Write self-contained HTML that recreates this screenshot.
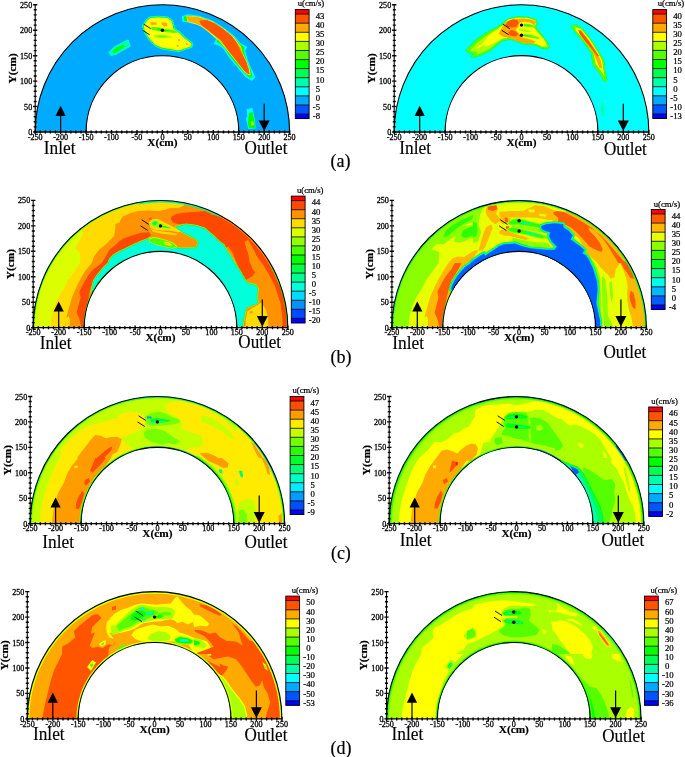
<!DOCTYPE html>
<html lang="en"><head><meta charset="utf-8"><title>Velocity contours</title>
<style>
html,body{margin:0;padding:0;background:#fff}
svg{display:block}
text{font-family:"Liberation Serif","DejaVu Serif",serif;fill:#000}
.t text{font-size:8.1px;stroke:#000;stroke-width:.28px}
.c text{font-size:8.7px;stroke:#000;stroke-width:.22px}
.b{font-size:11.3px;font-weight:bold;stroke:#000;stroke-width:.2px}
.io{font-size:18px;stroke:#000;stroke-width:.15px}
.cap{font-size:18px;stroke:#000;stroke-width:.2px}
</style></head><body>
<svg width="685" height="757" viewBox="0 0 685 757">
<rect width="685" height="757" fill="#fff"/>
<clipPath id="c1"><path d="M35.2 132A127.2 127.2 0 0 1 289.6 132L238.8 132A76.3 76.3 0 0 0 86.1 132Z"/></clipPath>
<g clip-path="url(#c1)">
<rect x="34.2" y="3.8" width="256.5" height="129.2" fill="#00aaff"/>
<path d="M146.7 21.1L150.4 18.1L158.4 17.4L167.2 18.1L171.5 21.1L172.7 25.4L173.4 29.1L178.8 32.7L184.7 38.6L191.7 43.7L190.8 46.6L186.1 48.1L178.8 50.5L170.1 49.1L161.3 47.6L155.5 44.7L150.4 39.6L146.7 34.2L144.5 29.8L143.8 25.4Z" fill="#00ffff" stroke="#00ffff" stroke-width="3.2" stroke-linejoin="round"/>
<path d="M146.7 21.1L150.4 18.1L158.4 17.4L167.2 18.1L171.5 21.1L172.7 25.4L173.4 29.1L178.8 32.7L184.7 38.6L191.7 43.7L190.8 46.6L186.1 48.1L178.8 50.5L170.1 49.1L161.3 47.6L155.5 44.7L150.4 39.6L146.7 34.2L144.5 29.8L143.8 25.4Z" fill="#00ff00" stroke="#00ff00" stroke-width="1.6" stroke-linejoin="round"/>
<path d="M146.7 21.1L150.4 18.1L158.4 17.4L167.2 18.1L171.5 21.1L172.7 25.4L173.4 29.1L178.8 32.7L184.7 38.6L191.7 43.7L190.8 46.6L186.1 48.1L178.8 50.5L170.1 49.1L161.3 47.6L155.5 44.7L150.4 39.6L146.7 34.2L144.5 29.8L143.8 25.4Z" fill="#ffff00"/>
<path d="M150.4 22.2L156.2 22.2L156.9 24.7L151.1 25Z" fill="#ffaa00"/>
<path d="M161.3 22.2L167.2 22.8L167.4 26.2L164.2 26.6L162 24.7Z" fill="#ffaa00"/>
<path d="M178.1 38.9L180 39.2L180 40.9L178.2 40.9Z" fill="#ffaa00"/>
<path d="M176.6 44.7L178.5 44.7L178.5 46.8L176.8 46.8Z" fill="#ffaa00"/>
<path d="M186.1 43.2L187.9 43.2L187.9 45L186.1 45Z" fill="#ffaa00"/>
<path d="M151.1 26.9L158.4 27.2L164.2 29.1L173 29.8L178.1 32.4L173 33L165.7 32L158.4 31.3L151.8 29.8Z" fill="#55ff00"/>
<path d="M156.9 28.1L164.2 29.5L170.1 30.5L164.2 31.3L157.7 30.1Z" fill="#00ff00"/>
<path d="M153.3 35.2L161.3 34.6L170.1 35.7L173 37.4L164.2 38.3L155.5 37.8Z" fill="#aaff00"/>
<path d="M155.5 35.9L164.2 35.7L168.6 36.7L161.3 37.4Z" fill="#55ff00"/>
<path d="M109.1 52.4L113.9 47.3L120.4 43.7L128 40L129.2 43.2L130.4 46.2L126.7 48.2L121.9 50.8L116.1 54.3L110.9 55.4Z" fill="#00ffff" stroke="#00ffff" stroke-width="1" stroke-linejoin="round"/>
<path d="M109.1 52.4L113.9 47.3L120.4 43.7L128 40L129.2 43.2L130.4 46.2L126.7 48.2L121.9 50.8L116.1 54.3L110.9 55.4Z" fill="#00ffaa"/>
<path d="M112.4 51.4L117.5 47.3L123.4 44.7L124.8 46.6L119 50.3L114.6 53.2Z" fill="#00ff00"/>
<path d="M182.4 16.7L187.5 14.9L199.2 16.4L212.3 21.1L224 28.4L234.2 36.4L240.1 43.7L246.6 47.3L244.5 51L247.4 60.5L251 69.2L254.7 77.3L251.8 80.2L245.9 76.5L238.6 67.8L229.9 57.6L224 48.8L219.6 45.1L214.5 43.7L216.7 39.3L210.9 33.5L203.6 26.9L196.3 24L187.5 21.8L183.1 21.1Z" fill="#00ffff" stroke="#00ffff" stroke-width="1.2" stroke-linejoin="round"/>
<path d="M184.6 17L188.2 16.1L199.2 17.4L212.3 22.1L223.3 29.1L233.5 37.1L238.6 43.7L243.7 47.6L243 51L245.9 60.5L249.6 69.2L251.8 76.5L250 77.3L245.9 73.6L238.6 65.6L230.6 56.1L225.2 48.1L220.4 43.2L217.4 41.5L218.2 39.3L211.6 32.7L204.3 26.2L196.3 23L188.2 20.8L184.6 20.3Z" fill="#00ff00" stroke="#00ff00" stroke-width="1.2" stroke-linejoin="round"/>
<path d="M187.5 16.7L199.2 17.8L212.3 22.5L223.3 29.5L232.8 37.4L237.4 43.7L240.1 47.3L241.5 53.2L245.9 61.9L248.5 69.2L249.6 74.3L245.9 72.2L240.1 64.9L234.2 57.6L228.4 50.3L224.7 45.9L220.4 40.8L213.8 34.9L206.5 29.1L201.4 25.4L196.3 23.2L188.2 20.8Z" fill="#ffff00" stroke="#ffff00" stroke-width="2" stroke-linejoin="round"/>
<path d="M187.5 16.7L199.2 17.8L212.3 22.5L223.3 29.5L232.8 37.4L237.4 43.7L240.1 47.3L241.5 53.2L245.9 61.9L248.5 69.2L249.6 74.3L245.9 72.2L240.1 64.9L234.2 57.6L228.4 50.3L224.7 45.9L220.4 40.8L213.8 34.9L206.5 29.1L201.4 25.4L196.3 23.2L188.2 20.8Z" fill="#ffaa00" stroke="#ffaa00" stroke-width="1" stroke-linejoin="round"/>
<path d="M199.9 21.1L206.5 20.3L215.3 24L224 30.1L231.3 36.1L236.4 43L238.6 47.3L241.5 53.2L245.9 61.9L248.1 69.2L248.8 73.6L245.9 72.2L240.1 64.9L234.2 57.6L228.4 50.3L225.5 45.9L221.1 40L213.8 34.2L206.5 28.4L201.4 24.7Z" fill="#ff5500" stroke="#ff5500" stroke-width="0.8" stroke-linejoin="round"/>
<path d="M246.6 109.3L252.4 108.1L253.6 113.4L255.1 120.4L255.6 128.5L248.4 129.1L247.2 123.9L245.8 118.6L247.4 116.3Z" fill="#00ffff"/>
<path d="M248.9 113.4L252.4 111.6L254.2 119.2L255.1 128L248.9 128.3L247.8 122.7L248.4 118Z" fill="#00ff00"/>
<path d="M250.9 121.5L253 120.9L254 125L251.3 125.6Z" fill="#aaff00"/>
</g>
<path d="M35.2 132A127.2 127.2 0 0 1 289.6 132" fill="none" stroke="#000" stroke-width="1.1"/>
<path d="M86.1 132A76.3 76.3 0 0 1 238.8 132" fill="none" stroke="#000" stroke-width="1.1"/>
<path d="M34.7 132H290.1" stroke="#000" stroke-width="1.3" fill="none"/>
<path d="M35.2 132.5V4.2" stroke="#000" stroke-width="1.1" fill="none"/>
<path d="M35.2 129.9V134.1M40.2 130.5V133.5M45.3 130.5V133.5M50.4 130.5V133.5M55.5 130.5V133.5M60.6 129.9V134.1M65.7 130.5V133.5M70.8 130.5V133.5M75.9 130.5V133.5M81 130.5V133.5M86.1 129.9V134.1M91.1 130.5V133.5M96.2 130.5V133.5M101.3 130.5V133.5M106.4 130.5V133.5M111.5 129.9V134.1M116.6 130.5V133.5M121.7 130.5V133.5M126.8 130.5V133.5M131.9 130.5V133.5M137 129.9V134.1M142 130.5V133.5M147.1 130.5V133.5M152.2 130.5V133.5M157.3 130.5V133.5M162.4 129.9V134.1M167.5 130.5V133.5M172.6 130.5V133.5M177.7 130.5V133.5M182.8 130.5V133.5M187.8 129.9V134.1M192.9 130.5V133.5M198 130.5V133.5M203.1 130.5V133.5M208.2 130.5V133.5M213.3 129.9V134.1M218.4 130.5V133.5M223.5 130.5V133.5M228.6 130.5V133.5M233.7 130.5V133.5M238.8 129.9V134.1M243.8 130.5V133.5M248.9 130.5V133.5M254 130.5V133.5M259.1 130.5V133.5M264.2 129.9V134.1M269.3 130.5V133.5M274.4 130.5V133.5M279.5 130.5V133.5M284.6 130.5V133.5M289.6 129.9V134.1M33.1 132H37.3M33.7 126.9H36.7M33.7 121.8H36.7M33.7 116.7H36.7M33.7 111.6H36.7M33.1 106.5H37.3M33.7 101.5H36.7M33.7 96.4H36.7M33.7 91.3H36.7M33.7 86.2H36.7M33.1 81.1H37.3M33.7 76H36.7M33.7 70.9H36.7M33.7 65.8H36.7M33.7 60.7H36.7M33.1 55.7H37.3M33.7 50.6H36.7M33.7 45.5H36.7M33.7 40.4H36.7M33.7 35.3H36.7M33.1 30.2H37.3M33.7 25.1H36.7M33.7 20H36.7M33.7 14.9H36.7M33.7 9.8H36.7M33.1 4.8H37.3" stroke="#000" stroke-width="1.4" fill="none"/>
<g class="t">
<text x="35.2" y="139.6" text-anchor="middle">-250</text>
<text x="60.6" y="139.6" text-anchor="middle">-200</text>
<text x="86.1" y="139.6" text-anchor="middle">-150</text>
<text x="111.5" y="139.6" text-anchor="middle">-100</text>
<text x="137" y="139.6" text-anchor="middle">-50</text>
<text x="162.4" y="139.6" text-anchor="middle">0</text>
<text x="187.8" y="139.6" text-anchor="middle">50</text>
<text x="213.3" y="139.6" text-anchor="middle">100</text>
<text x="238.8" y="139.6" text-anchor="middle">150</text>
<text x="264.2" y="139.6" text-anchor="middle">200</text>
<text x="289.6" y="139.6" text-anchor="middle">250</text>
<text x="32.2" y="135" text-anchor="end">0</text>
<text x="32.2" y="109.5" text-anchor="end">50</text>
<text x="32.2" y="84.1" text-anchor="end">100</text>
<text x="32.2" y="58.7" text-anchor="end">150</text>
<text x="32.2" y="33.2" text-anchor="end">200</text>
<text x="32.2" y="7.8" text-anchor="end">250</text>
</g>
<text class="b" x="162.4" y="145.6" text-anchor="middle">X(cm)</text>
<text class="b" transform="translate(15.8 68.4) rotate(-90)" text-anchor="middle">Y(cm)</text>
<path d="M60.6 132V115" stroke="#000" stroke-width="1.2"/>
<path d="M60.6 105.7L55.5 115.9L65.7 115.9Z" fill="#000"/>
<path d="M264.2 103.7V123" stroke="#000" stroke-width="1.2"/>
<path d="M264.2 131L258.7 120.4L269.7 120.4Z" fill="#000"/>
<circle cx="162.4" cy="30.2" r="1.7" fill="#000"/>
<path d="M143.6 24.1L150.7 28.7" stroke="#000" stroke-width="0.9"/>
<path d="M142.5 30.2L149.7 34.8" stroke="#000" stroke-width="0.9"/>
<text class="io" x="43.7" y="153.7" textLength="31.8" lengthAdjust="spacingAndGlyphs">Inlet</text>
<text class="io" x="244.6" y="153.6" textLength="42.8" lengthAdjust="spacingAndGlyphs">Outlet</text>
<rect x="295.3" y="9.6" width="13.8" height="4.8" fill="#ff0000"/>
<rect x="295.3" y="14.1" width="13.8" height="9.4" fill="#ff5500"/>
<rect x="295.3" y="23.2" width="13.8" height="9.4" fill="#ffaa00"/>
<rect x="295.3" y="32.3" width="13.8" height="9.4" fill="#ffff00"/>
<rect x="295.3" y="41.4" width="13.8" height="9.4" fill="#aaff00"/>
<rect x="295.3" y="50.5" width="13.8" height="9.4" fill="#55ff00"/>
<rect x="295.3" y="59.6" width="13.8" height="9.4" fill="#00ff00"/>
<rect x="295.3" y="68.6" width="13.8" height="9.4" fill="#00ff55"/>
<rect x="295.3" y="77.7" width="13.8" height="9.4" fill="#00ffaa"/>
<rect x="295.3" y="86.8" width="13.8" height="9.4" fill="#00ffff"/>
<rect x="295.3" y="95.9" width="13.8" height="9.4" fill="#00aaff"/>
<rect x="295.3" y="105" width="13.8" height="9.4" fill="#0055ff"/>
<rect x="295.3" y="114.1" width="13.8" height="4.8" fill="#0000ff"/>
<path d="M295.3 14.1H309.1M295.3 23.2H309.1M295.3 32.3H309.1M295.3 41.4H309.1M295.3 50.5H309.1M295.3 59.6H309.1M295.3 68.6H309.1M295.3 77.7H309.1M295.3 86.8H309.1M295.3 95.9H309.1M295.3 105H309.1M295.3 114.1H309.1" stroke="#000" stroke-width="0.8" fill="none"/>
<rect x="295.3" y="9.6" width="13.8" height="109" fill="none" stroke="#000" stroke-width="0.9"/>
<g class="c">
<text x="315.7" y="18.9">43</text>
<text x="315.7" y="28">40</text>
<text x="315.7" y="37.1">35</text>
<text x="315.7" y="46.2">30</text>
<text x="315.7" y="55.3">25</text>
<text x="315.7" y="64.4">20</text>
<text x="315.7" y="73.4">15</text>
<text x="315.7" y="82.5">10</text>
<text x="315.7" y="91.6">5</text>
<text x="315.7" y="100.7">0</text>
<text x="312.8" y="109.8">-5</text>
<text x="312.8" y="118.9">-8</text>
<text x="311" y="6.2" text-anchor="middle">u(cm/s)</text>
</g>
<clipPath id="c2"><path d="M394.2 132A127.2 127.2 0 0 1 648.8 132L597.9 132A76.3 76.3 0 0 0 445.1 132Z"/></clipPath>
<g clip-path="url(#c2)">
<rect x="393.2" y="3.8" width="256.5" height="129.2" fill="#00ffff"/>
<path d="M465.8 50.3L471.7 44.4L479 37.8L489.2 31.3L498 26.9L503.8 22.5L508.2 18.9L518.4 16.7L528.6 17.4L535.9 19.6L537.4 23.2L535.2 26.9L538.8 31.3L544.7 38.6L549.1 45.9L547.6 48.8L541.8 48.1L535.9 45.1L530.1 44.4L522.8 43.7L516.9 41.5L509.6 39.3L502.3 40.8L496.5 45.1L490.7 50.3L483.4 53.9L476.1 56.8L470.9 56.8L473.9 53.2L468.8 52.4Z" fill="#00ff55" stroke="#00ff55" stroke-width="1.2" stroke-linejoin="round"/>
<path d="M465.8 50.3L471.7 44.4L479 37.8L489.2 31.3L498 26.9L503.8 22.5L508.2 18.9L518.4 16.7L528.6 17.4L535.9 19.6L537.4 23.2L535.2 26.9L538.8 31.3L544.7 38.6L549.1 45.9L547.6 48.8L541.8 48.1L535.9 45.1L530.1 44.4L522.8 43.7L516.9 41.5L509.6 39.3L502.3 40.8L496.5 45.1L490.7 50.3L483.4 53.9L476.1 56.8L470.9 56.8L473.9 53.2L468.8 52.4Z" fill="#55ff00"/>
<path d="M470.2 50.3L476.1 43.7L483.4 37.8L492.1 32L499.4 28.4L503.8 34.2L502.3 39.3L496.5 43.2L489.9 48.5L483.4 52L476.8 54.6L477.5 51.7L472.4 51.4Z" fill="#aaff00"/>
<path d="M481.9 44.4L487.7 36.4L496.5 29.8L503.8 24.7L508.2 19.6L518.4 17.8L528.6 18.1L535.2 20.8L535.9 24L533.7 26.9L537.4 32L543.9 39.3L547.6 46.6L541.8 46.6L535.9 43.7L530.1 43L522.8 42.2L516.9 40L509.6 37.8L502.3 38.6L496.5 41.5L491.4 44.4L486.3 46.6Z" fill="#ffff00"/>
<path d="M474.6 48.8L481.9 43.7L487.7 40.8L484.8 44.4L479 48.1Z" fill="#ffff00"/>
<path d="M498.7 33.5L502.3 26.9L506.7 21.8L512.6 18.9L522.8 18.4L531.5 19.6L535.9 21.8L534.5 25.4L530.1 22.5L524.2 21.8L519.9 22.5L518.4 26.9L515.5 29.8L518.4 32.7L522.8 37.8L530.1 39.3L535.9 41.5L533 43.7L525.7 43L518.4 41.5L514 39.3L508.2 37.8L502.3 36.4Z" fill="#ffaa00"/>
<path d="M505.3 24.7L508.2 21.1L513.3 19.6L517.7 20.3L518.4 23.2L516.2 26.9L511.1 27.6L506.7 26.9Z" fill="#ff5500"/>
<path d="M508.2 32.7L511.1 29.8L515.5 31.3L518.4 34.2L515.5 36.4L510.4 35.7Z" fill="#ff5500"/>
<path d="M523.5 23.7L530.1 24.3L535.9 26.2L535.2 27.6L528.6 26.9L523.5 26.2Z" fill="#55ff00"/>
<path d="M524.2 24.6L531.5 25.4L528.6 26.3L524.2 25.7Z" fill="#00ff55"/>
<path d="M523.5 33.9L531.5 34.9L539.6 37.4L538.8 38.9L530.1 37.4L523.5 36.4Z" fill="#55ff00"/>
<path d="M524.2 34.6L533 35.9L530.1 36.8L524.2 35.8Z" fill="#00ff55"/>
<path d="M519.1 28.4L524.2 29.1L533 32L525.7 32L519.1 30.5Z" fill="#aaff00"/>
<path d="M571.5 25.6L576 24.8L582.3 28.8L590.2 38.3L598.2 51L603.7 59.7L604.5 68.4L606.9 80.3L604.5 81.9L599.7 73.2L593.4 65.2L591 52.6L585.5 44.6L579.1 36.7L573.6 30.4Z" fill="#00ff55" stroke="#00ff55" stroke-width="1" stroke-linejoin="round"/>
<path d="M571.5 25.6L576 24.8L582.3 28.8L590.2 38.3L598.2 51L603.7 59.7L604.5 68.4L606.9 80.3L604.5 81.9L599.7 73.2L593.4 65.2L591 52.6L585.5 44.6L579.1 36.7L573.6 30.4Z" fill="#55ff00"/>
<path d="M575.2 27.2L580.7 28.8L589.4 39.1L597.4 51.8L602.1 60.5L603.2 68.4L604.5 76.3L601.3 71.6L595.8 63.7L593.4 52.6L587.1 43.8L580.7 35.9L576 30.4Z" fill="#ffff00"/>
<path d="M577.6 29.6L580.7 30L588.7 39.9L596.6 51.8L600.5 59.7L602.1 67.6L599.7 68.4L596.6 60.5L592.6 51L586.3 43L579.9 35.1Z" fill="#ffaa00"/>
<path d="M578.8 30.4L581 30.7L588.7 40.7L595.8 51.8L599 55.7L597.4 56.5L592.6 50.2L585.5 41.5L579.5 33.5Z" fill="#ff5500"/>
<path d="M601.3 102.5L603.2 102.5L604.5 108L603.7 116L601.7 116L600.5 109.6Z" fill="#00ffaa"/>
</g>
<path d="M394.2 132A127.2 127.2 0 0 1 648.8 132" fill="none" stroke="#000" stroke-width="1.1"/>
<path d="M445.1 132A76.3 76.3 0 0 1 597.9 132" fill="none" stroke="#000" stroke-width="1.1"/>
<path d="M393.8 132H649.2" stroke="#000" stroke-width="1.3" fill="none"/>
<path d="M394.2 132.5V4.2" stroke="#000" stroke-width="1.1" fill="none"/>
<path d="M394.2 129.9V134.1M399.3 130.5V133.5M404.4 130.5V133.5M409.5 130.5V133.5M414.6 130.5V133.5M419.7 129.9V134.1M424.8 130.5V133.5M429.9 130.5V133.5M435 130.5V133.5M440.1 130.5V133.5M445.1 129.9V134.1M450.2 130.5V133.5M455.3 130.5V133.5M460.4 130.5V133.5M465.5 130.5V133.5M470.6 129.9V134.1M475.7 130.5V133.5M480.8 130.5V133.5M485.9 130.5V133.5M491 130.5V133.5M496.1 129.9V134.1M501.1 130.5V133.5M506.2 130.5V133.5M511.3 130.5V133.5M516.4 130.5V133.5M521.5 129.9V134.1M526.6 130.5V133.5M531.7 130.5V133.5M536.8 130.5V133.5M541.9 130.5V133.5M547 129.9V134.1M552 130.5V133.5M557.1 130.5V133.5M562.2 130.5V133.5M567.3 130.5V133.5M572.4 129.9V134.1M577.5 130.5V133.5M582.6 130.5V133.5M587.7 130.5V133.5M592.8 130.5V133.5M597.9 129.9V134.1M602.9 130.5V133.5M608 130.5V133.5M613.1 130.5V133.5M618.2 130.5V133.5M623.3 129.9V134.1M628.4 130.5V133.5M633.5 130.5V133.5M638.6 130.5V133.5M643.7 130.5V133.5M648.8 129.9V134.1M392.1 132H396.4M392.8 126.9H395.8M392.8 121.8H395.8M392.8 116.7H395.8M392.8 111.6H395.8M392.1 106.5H396.4M392.8 101.5H395.8M392.8 96.4H395.8M392.8 91.3H395.8M392.8 86.2H395.8M392.1 81.1H396.4M392.8 76H395.8M392.8 70.9H395.8M392.8 65.8H395.8M392.8 60.7H395.8M392.1 55.7H396.4M392.8 50.6H395.8M392.8 45.5H395.8M392.8 40.4H395.8M392.8 35.3H395.8M392.1 30.2H396.4M392.8 25.1H395.8M392.8 20H395.8M392.8 14.9H395.8M392.8 9.8H395.8M392.1 4.8H396.4" stroke="#000" stroke-width="1.4" fill="none"/>
<g class="t">
<text x="394.2" y="139.6" text-anchor="middle">-250</text>
<text x="419.7" y="139.6" text-anchor="middle">-200</text>
<text x="445.1" y="139.6" text-anchor="middle">-150</text>
<text x="470.6" y="139.6" text-anchor="middle">-100</text>
<text x="496.1" y="139.6" text-anchor="middle">-50</text>
<text x="521.5" y="139.6" text-anchor="middle">0</text>
<text x="547" y="139.6" text-anchor="middle">50</text>
<text x="572.4" y="139.6" text-anchor="middle">100</text>
<text x="597.9" y="139.6" text-anchor="middle">150</text>
<text x="623.3" y="139.6" text-anchor="middle">200</text>
<text x="648.8" y="139.6" text-anchor="middle">250</text>
<text x="391.2" y="135" text-anchor="end">0</text>
<text x="391.2" y="109.5" text-anchor="end">50</text>
<text x="391.2" y="84.1" text-anchor="end">100</text>
<text x="391.2" y="58.7" text-anchor="end">150</text>
<text x="391.2" y="33.2" text-anchor="end">200</text>
<text x="391.2" y="7.8" text-anchor="end">250</text>
</g>
<text class="b" x="521.5" y="145.6" text-anchor="middle">X(cm)</text>
<text class="b" transform="translate(374.9 68.4) rotate(-90)" text-anchor="middle">Y(cm)</text>
<path d="M419.7 132V115" stroke="#000" stroke-width="1.2"/>
<path d="M419.7 105.7L414.6 115.9L424.8 115.9Z" fill="#000"/>
<path d="M623.3 103.7V123" stroke="#000" stroke-width="1.2"/>
<path d="M623.3 131L617.8 120.4L628.8 120.4Z" fill="#000"/>
<circle cx="521.5" cy="25.1" r="1.7" fill="#000"/>
<circle cx="521.5" cy="35.3" r="1.7" fill="#000"/>
<path d="M502.7 24.1L509.8 28.7" stroke="#000" stroke-width="0.9"/>
<path d="M501.6 30.2L508.8 34.8" stroke="#000" stroke-width="0.9"/>
<text class="io" x="399.3" y="154.2" textLength="31.8" lengthAdjust="spacingAndGlyphs">Inlet</text>
<text class="io" x="604" y="154.8" textLength="42.8" lengthAdjust="spacingAndGlyphs">Outlet</text>
<rect x="652.8" y="9.6" width="13.8" height="4.8" fill="#ff0000"/>
<rect x="652.8" y="14.1" width="13.8" height="9.4" fill="#ff5500"/>
<rect x="652.8" y="23.2" width="13.8" height="9.4" fill="#ffaa00"/>
<rect x="652.8" y="32.3" width="13.8" height="9.4" fill="#ffff00"/>
<rect x="652.8" y="41.4" width="13.8" height="9.4" fill="#aaff00"/>
<rect x="652.8" y="50.4" width="13.8" height="9.4" fill="#55ff00"/>
<rect x="652.8" y="59.5" width="13.8" height="9.4" fill="#00ff00"/>
<rect x="652.8" y="68.6" width="13.8" height="9.4" fill="#00ff55"/>
<rect x="652.8" y="77.7" width="13.8" height="9.4" fill="#00ffaa"/>
<rect x="652.8" y="86.7" width="13.8" height="9.4" fill="#00ffff"/>
<rect x="652.8" y="95.8" width="13.8" height="9.4" fill="#00aaff"/>
<rect x="652.8" y="104.9" width="13.8" height="9.4" fill="#0055ff"/>
<rect x="652.8" y="114" width="13.8" height="4.8" fill="#0000ff"/>
<path d="M652.8 14.1H666.6M652.8 23.2H666.6M652.8 32.3H666.6M652.8 41.4H666.6M652.8 50.4H666.6M652.8 59.5H666.6M652.8 68.6H666.6M652.8 77.7H666.6M652.8 86.7H666.6M652.8 95.8H666.6M652.8 104.9H666.6M652.8 114H666.6" stroke="#000" stroke-width="0.8" fill="none"/>
<rect x="652.8" y="9.6" width="13.8" height="108.9" fill="none" stroke="#000" stroke-width="0.9"/>
<g class="c">
<text x="673.2" y="18.9">40</text>
<text x="673.2" y="28">35</text>
<text x="673.2" y="37.1">30</text>
<text x="673.2" y="46.2">25</text>
<text x="673.2" y="55.2">20</text>
<text x="673.2" y="64.3">15</text>
<text x="673.2" y="73.4">10</text>
<text x="673.2" y="82.5">5</text>
<text x="673.2" y="91.5">0</text>
<text x="670.3" y="100.6">-5</text>
<text x="670.3" y="109.7">-10</text>
<text x="670.3" y="118.8">-13</text>
<text x="671" y="6.2" text-anchor="middle">u(cm/s)</text>
</g>
<clipPath id="c3"><path d="M33.2 327.7A127.2 127.2 0 0 1 287.8 327.7L236.8 327.7A76.3 76.3 0 0 0 84.2 327.7Z"/></clipPath>
<g clip-path="url(#c3)">
<rect x="32.2" y="199.4" width="256.5" height="129.2" fill="#ff9200"/>
<path d="M23.4 331.3L64.8 331.3L64.8 327.2L66.8 315.6L69.4 306.4L72 297.2L76 288L80.6 278.8L85.2 270.9L91.8 263L94.4 255.8L99.6 249.2L106.2 244L114.1 236.1L115.4 228.2L115.4 224.3L120 222.3L120.3 220.3L122.9 216.4L130.8 213.1L138.6 211.1L147.8 210.5L158.4 211.1L164.9 209.8L170.2 207.9L178.1 207.9L183.3 205.9L185.9 203.3L185.9 192.7L23.4 192.7Z" fill="#ffdb00"/>
<path d="M65.7 318.2L68.8 316.2L70.1 320.8L69.4 327.2L65.5 327.2Z" fill="#ffdb00"/>
<path d="M23.4 331.3L50.4 331.3L50.4 327.2L51.7 315.6L54.3 306.4L58.2 297.2L63.5 289.3L68.1 280.1L74.7 270.9L80.6 263L79.9 253.2L75.3 247.9L81.2 237.4L83.2 233.5L81.9 230.8L79.9 228.2L23.4 228.2Z" fill="#dbff00"/>
<path d="M171.5 216.4L176.8 213.8L185.9 212.5L196.5 211.8L205 211.1L213.1 215.1L226.3 216.4L294.6 263L294.6 331.3L282.1 331.3L282.1 315.6L280.1 302.4L274.9 286.6L268.3 273.5L261.8 263L256.5 255.8L252.6 247.9L248 240L244.7 242L246 246.6L248.6 254.5L249.9 263L251.2 263L251.9 268.3L255.2 272.2L252.6 276.1L246 280.1L242 274.8L238.1 269.6L232.8 263L230.2 255.8L226.3 250.6L223.6 245.3L218.4 241.4L213.1 236.1L206.6 230.8L200 228L199.1 226.2L193.8 224.3L185.9 223.6L178.1 224.3L172.8 222.3L170.8 219Z" fill="#ff4900"/>
<path d="M244.7 242L248 240L252.6 247.9L256.5 255.8L259.1 263L261.8 263L268.3 273.5L274.9 286.6L280.1 302.4L282.1 315.6L282.8 331.3L268.3 331.3L268.3 318.2L265.7 309L261.8 302.4L261.1 297.2L261.8 289.3L260.4 282.7L256.5 273.5L252.6 266.9L249.9 263L248.6 254.5L246 246.6Z" fill="#ff9200"/>
<path d="M225.6 247.9L228.2 246.6L232.8 253.2L236.8 263L239.4 266.9L235.5 263L230.9 263L226.9 254.5Z" fill="#ff9200"/>
<path d="M81.2 331.3L81.2 327.2L79.3 318.2L76.6 312.9L78.6 305L80.6 297.2L79.3 291.9L82.6 285.3L87.8 276.1L93.1 269.6L101.6 263L106.2 255.8L108.8 250.6L114.1 246L120 240.7L122.9 238.7L132.1 235.4L141.3 232.8L149.2 232.2L151.1 235.4L146.5 238.7L140 240.7L132.1 244.6L124.2 248.6L117.6 251.9L115 253.2L114.1 254.5L110.1 258.4L108.8 263L107.5 263L102.3 268.3L97 274.8L93.1 280.1L91.8 285.3L89.8 290.6L87.8 302.4L85.8 315.6L85.2 331.3Z" fill="#ff4900"/>
<path d="M93.1 297.2L91.8 291.2L93.1 285.3L94.4 280.1L98.3 274.8L103.6 268.3L108.8 263L110.1 259.1L114.1 255.2L120 251.9L122.9 250.6L132.1 246L141.3 242L147.8 239.4L151.8 238.1L155.7 240L159.7 243.3L167.6 246.6L172.8 247.9L180.7 248.6L188.6 248.6L196.5 247.9L199.1 242.7L196.5 238.7L191.2 236.1L183.3 232.2L176.1 227.2L185.9 224.9L196.5 226.2L205 228.9L206.6 230.8L213.1 236.1L218.4 241.4L223.6 245.3L226.3 250.6L230.2 255.8L234.2 263L239.4 270.9L244.7 280.1L248.6 284L255.2 285.3L257.8 289.3L256.5 295.8L257.8 302.4L252.6 305L246 307.7L244.7 312.9L243.4 319.5L242 327.2L242 331.3L226.3 331.3L200 263L186.9 263L159.7 266.3L122 302.4Z" fill="#92ff00" stroke="#92ff00" stroke-width="2.4" stroke-linejoin="round"/>
<path d="M93.1 297.2L91.8 291.2L93.1 285.3L94.4 280.1L98.3 274.8L103.6 268.3L108.8 263L110.1 259.1L114.1 255.2L120 251.9L122.9 250.6L132.1 246L141.3 242L147.8 239.4L151.8 238.1L155.7 240L159.7 243.3L167.6 246.6L172.8 247.9L180.7 248.6L188.6 248.6L196.5 247.9L199.1 242.7L196.5 238.7L191.2 236.1L183.3 232.2L176.1 227.2L185.9 224.9L196.5 226.2L205 228.9L206.6 230.8L213.1 236.1L218.4 241.4L223.6 245.3L226.3 250.6L230.2 255.8L234.2 263L239.4 270.9L244.7 280.1L248.6 284L255.2 285.3L257.8 289.3L256.5 295.8L257.8 302.4L252.6 305L246 307.7L244.7 312.9L243.4 319.5L242 327.2L242 331.3L226.3 331.3L200 263L186.9 263L159.7 266.3L122 302.4Z" fill="#00ff49" stroke="#00ff49" stroke-width="1.2" stroke-linejoin="round"/>
<path d="M93.1 297.2L91.8 291.2L93.1 285.3L94.4 280.1L98.3 274.8L103.6 268.3L108.8 263L110.1 259.1L114.1 255.2L120 251.9L122.9 250.6L132.1 246L141.3 242L147.8 239.4L151.8 238.1L155.7 240L159.7 243.3L167.6 246.6L172.8 247.9L180.7 248.6L188.6 248.6L196.5 247.9L199.1 242.7L196.5 238.7L191.2 236.1L183.3 232.2L176.1 227.2L185.9 224.9L196.5 226.2L205 228.9L206.6 230.8L213.1 236.1L218.4 241.4L223.6 245.3L226.3 250.6L230.2 255.8L234.2 263L239.4 270.9L244.7 280.1L248.6 284L255.2 285.3L257.8 289.3L256.5 295.8L257.8 302.4L252.6 305L246 307.7L244.7 312.9L243.4 319.5L242 327.2L242 331.3L226.3 331.3L200 263L186.9 263L159.7 266.3L122 302.4Z" fill="#00ffdb"/>
<path d="M245.3 331.3L245.3 327.2L246 318.2L247.3 311.6L252.6 307.7L257.8 305L261.1 302.4L265.7 309L268.3 318.2L268.3 331.3Z" fill="#ffdb00"/>
<path d="M249.9 311.6L252.6 311L252.6 312.9L249.9 313.2Z" fill="#ff9200"/>
<path d="M148.9 222.4L152 219.3L157.6 218.8L163.7 221.9L170.9 225.4L177 229L181.1 231.6L178 232.6L172.9 231.1L166.8 230.5L160.7 230.5L155.5 230L150.4 228Z" fill="#ffdb00"/>
<path d="M150.4 222.9L153.5 220.3L157.6 220.3L159.6 222.9L163.7 224.9L168.8 227L172.9 229L168.8 229L163.7 228L158.6 228L153.5 227L150.9 225.4Z" fill="#92ff00"/>
<path d="M152 222.9L155 221.1L157.4 221.9L156.8 224.4L153.7 225.4Z" fill="#00ff49"/>
<path d="M160.7 225.4L164.7 225.9L170.9 228.3L165.8 227.7L161.2 226.7Z" fill="#00ff00"/>
<path d="M148.9 218.3L151.5 217.8L152 219.3L149.4 220.3Z" fill="#ff4900"/>
<path d="M150.4 229L156.6 230.5L163.7 231.8L170.9 232.6L178 234.1L175 235.1L168.8 234.6L160.7 233.6L153.5 232.1Z" fill="#ffdb00"/>
<path d="M149.4 239.2L154.5 237.7L160.7 239.2L166.8 240.8L172.9 243.3L176.5 246.4L172.9 247.9L166.8 246.9L160.7 245.4L154.5 243.8L149.9 241.8Z" fill="#dbff00" stroke="#dbff00" stroke-width="1.2" stroke-linejoin="round"/>
<path d="M149.4 239.2L154.5 237.7L160.7 239.2L166.8 240.8L172.9 243.3L176.5 246.4L172.9 247.9L166.8 246.9L160.7 245.4L154.5 243.8L149.9 241.8Z" fill="#49ff00"/>
<path d="M163.7 241.8L168.8 242.3L172.9 244.9L169.9 245.9L164.7 244.3Z" fill="#ffdb00"/>
<path d="M33.2 327.7L33.4 320.9L34 314.1L34.9 307.3L36.2 300.6L37.8 293.9L39.8 287.4L42.1 281L44.8 274.7L47.8 268.6L51.2 262.6L54.8 256.8L58.8 251.3L63 245.9L67.6 240.8L72.4 235.9L77.4 231.3L82.7 227L88.2 223L93.9 219.2L99.9 215.8L105.9 212.7L112.2 210L118.6 207.6L125.1 205.5L131.7 203.7L138.4 202.4" fill="none" stroke="#92ff00" stroke-width="3.2"/>
<path d="M33.2 327.7L33.4 320.9L34 314.1L34.9 307.3L36.2 300.6L37.8 293.9L39.8 287.4L42.1 281L44.8 274.7L47.8 268.6L51.2 262.6L54.8 256.8L58.8 251.3L63 245.9L67.6 240.8L72.4 235.9L77.4 231.3L82.7 227L88.2 223L93.9 219.2L99.9 215.8L105.9 212.7L112.2 210L118.6 207.6L125.1 205.5L131.7 203.7L138.4 202.4" fill="none" stroke="#00ff00" stroke-width="1.8"/>
<path d="M138.4 202.4L145.4 201.4L152.4 200.7L159.4 200.5L166.4 200.6L173.4 201.1L180.4 202L187.3 203.3L194.1 205L200.9 207L207.5 209.4L213.9 212.2L220.2 215.3" fill="none" stroke="#00ff49" stroke-width="4"/>
<path d="M138.4 202.4L145.4 201.4L152.4 200.7L159.4 200.5L166.4 200.6L173.4 201.1L180.4 202L187.3 203.3L194.1 205L200.9 207L207.5 209.4L213.9 212.2L220.2 215.3" fill="none" stroke="#00ffdb" stroke-width="2.8"/>
<path d="M220.2 215.3L226 218.6L231.7 222.2L237.1 226.1L242.3 230.2L247.3 234.6L252 239.3L256.5 244.2L260.8 249.4L264.7 254.7L268.4 260.3L271.8 266L274.9 271.9L277.6 278L280.1 284.2" fill="none" stroke="#ff9200" stroke-width="3.2"/>
<path d="M270.7 264.1L273.9 269.9L276.7 275.9L279.3 282.1L281.5 288.4L283.4 294.8L285 301.2L286.2 307.8L287.1 314.4L287.6 321L287.8 327.7" fill="none" stroke="#00ff00" stroke-width="2"/>
<path d="M84.2 327.7L84.3 323.7L84.6 319.7L85.1 315.8L85.8 311.8L86.8 307.9L87.9 304.1L89.2 300.3L90.8 296.6L92.5 293L94.4 289.5L96.5 286.1L98.7 282.8L101.2 279.7L103.8 276.6L106.5 273.7L109.4 271L112.5 268.4L115.6 265.9L118.9 263.7L122.3 261.6" fill="none" stroke="#00ff00" stroke-width="1.6"/>
</g>
<path d="M33.2 327.7A127.2 127.2 0 0 1 287.8 327.7" fill="none" stroke="#000" stroke-width="1.1"/>
<path d="M84.2 327.7A76.3 76.3 0 0 1 236.8 327.7" fill="none" stroke="#000" stroke-width="1.1"/>
<path d="M32.8 327.7H288.2" stroke="#000" stroke-width="1.3" fill="none"/>
<path d="M33.2 328.2V199.9" stroke="#000" stroke-width="1.1" fill="none"/>
<path d="M33.2 325.6V329.8M38.3 326.2V329.2M43.4 326.2V329.2M48.5 326.2V329.2M53.6 326.2V329.2M58.7 325.6V329.8M63.8 326.2V329.2M68.9 326.2V329.2M74 326.2V329.2M79.1 326.2V329.2M84.2 325.6V329.8M89.2 326.2V329.2M94.3 326.2V329.2M99.4 326.2V329.2M104.5 326.2V329.2M109.6 325.6V329.8M114.7 326.2V329.2M119.8 326.2V329.2M124.9 326.2V329.2M130 326.2V329.2M135.1 325.6V329.8M140.1 326.2V329.2M145.2 326.2V329.2M150.3 326.2V329.2M155.4 326.2V329.2M160.5 325.6V329.8M165.6 326.2V329.2M170.7 326.2V329.2M175.8 326.2V329.2M180.9 326.2V329.2M185.9 325.6V329.8M191 326.2V329.2M196.1 326.2V329.2M201.2 326.2V329.2M206.3 326.2V329.2M211.4 325.6V329.8M216.5 326.2V329.2M221.6 326.2V329.2M226.7 326.2V329.2M231.8 326.2V329.2M236.8 325.6V329.8M241.9 326.2V329.2M247 326.2V329.2M252.1 326.2V329.2M257.2 326.2V329.2M262.3 325.6V329.8M267.4 326.2V329.2M272.5 326.2V329.2M277.6 326.2V329.2M282.7 326.2V329.2M287.8 325.6V329.8M31.1 327.7H35.4M31.8 322.6H34.8M31.8 317.5H34.8M31.8 312.4H34.8M31.8 307.3H34.8M31.1 302.2H35.4M31.8 297.2H34.8M31.8 292.1H34.8M31.8 287H34.8M31.8 281.9H34.8M31.1 276.8H35.4M31.8 271.7H34.8M31.8 266.6H34.8M31.8 261.5H34.8M31.8 256.4H34.8M31.1 251.3H35.4M31.8 246.3H34.8M31.8 241.2H34.8M31.8 236.1H34.8M31.8 231H34.8M31.1 225.9H35.4M31.8 220.8H34.8M31.8 215.7H34.8M31.8 210.6H34.8M31.8 205.5H34.8M31.1 200.4H35.4" stroke="#000" stroke-width="1.4" fill="none"/>
<g class="t">
<text x="33.2" y="335.3" text-anchor="middle">-250</text>
<text x="58.7" y="335.3" text-anchor="middle">-200</text>
<text x="84.2" y="335.3" text-anchor="middle">-150</text>
<text x="109.6" y="335.3" text-anchor="middle">-100</text>
<text x="135.1" y="335.3" text-anchor="middle">-50</text>
<text x="160.5" y="335.3" text-anchor="middle">0</text>
<text x="185.9" y="335.3" text-anchor="middle">50</text>
<text x="211.4" y="335.3" text-anchor="middle">100</text>
<text x="236.8" y="335.3" text-anchor="middle">150</text>
<text x="262.3" y="335.3" text-anchor="middle">200</text>
<text x="287.8" y="335.3" text-anchor="middle">250</text>
<text x="30.2" y="330.7" text-anchor="end">0</text>
<text x="30.2" y="305.2" text-anchor="end">50</text>
<text x="30.2" y="279.8" text-anchor="end">100</text>
<text x="30.2" y="254.3" text-anchor="end">150</text>
<text x="30.2" y="228.9" text-anchor="end">200</text>
<text x="30.2" y="203.4" text-anchor="end">250</text>
</g>
<text class="b" x="160.5" y="341.3" text-anchor="middle">X(cm)</text>
<text class="b" transform="translate(13.9 264.1) rotate(-90)" text-anchor="middle">Y(cm)</text>
<path d="M58.7 327.7V310.7" stroke="#000" stroke-width="1.2"/>
<path d="M58.7 301.4L53.6 311.6L63.8 311.6Z" fill="#000"/>
<path d="M262.3 299.4V318.7" stroke="#000" stroke-width="1.2"/>
<path d="M262.3 326.7L256.8 316.1L267.8 316.1Z" fill="#000"/>
<circle cx="160.5" cy="225.9" r="1.7" fill="#000"/>
<path d="M141.7 219.8L148.8 224.4" stroke="#000" stroke-width="0.9"/>
<path d="M140.6 225.9L147.8 230.5" stroke="#000" stroke-width="0.9"/>
<text class="io" x="39.7" y="349.2" textLength="31.8" lengthAdjust="spacingAndGlyphs">Inlet</text>
<text class="io" x="238.3" y="348.1" textLength="42.8" lengthAdjust="spacingAndGlyphs">Outlet</text>
<rect x="291.3" y="196.1" width="13.8" height="4.8" fill="#ff0000"/>
<rect x="291.3" y="200.6" width="13.8" height="9.4" fill="#ff4900"/>
<rect x="291.3" y="209.7" width="13.8" height="9.4" fill="#ff9200"/>
<rect x="291.3" y="218.7" width="13.8" height="9.4" fill="#ffdb00"/>
<rect x="291.3" y="227.8" width="13.8" height="9.4" fill="#dbff00"/>
<rect x="291.3" y="236.9" width="13.8" height="9.4" fill="#92ff00"/>
<rect x="291.3" y="245.9" width="13.8" height="9.4" fill="#49ff00"/>
<rect x="291.3" y="255" width="13.8" height="9.4" fill="#00ff00"/>
<rect x="291.3" y="264" width="13.8" height="9.4" fill="#00ff49"/>
<rect x="291.3" y="273.1" width="13.8" height="9.4" fill="#00ff92"/>
<rect x="291.3" y="282.1" width="13.8" height="9.4" fill="#00ffdb"/>
<rect x="291.3" y="291.2" width="13.8" height="9.4" fill="#00dbff"/>
<rect x="291.3" y="300.3" width="13.8" height="9.4" fill="#0092ff"/>
<rect x="291.3" y="309.3" width="13.8" height="9.4" fill="#0049ff"/>
<rect x="291.3" y="318.4" width="13.8" height="4.8" fill="#0000ff"/>
<path d="M291.3 200.6H305.1M291.3 209.7H305.1M291.3 218.7H305.1M291.3 227.8H305.1M291.3 236.9H305.1M291.3 245.9H305.1M291.3 255H305.1M291.3 264H305.1M291.3 273.1H305.1M291.3 282.1H305.1M291.3 291.2H305.1M291.3 300.3H305.1M291.3 309.3H305.1M291.3 318.4H305.1" stroke="#000" stroke-width="0.8" fill="none"/>
<rect x="291.3" y="196.1" width="13.8" height="126.8" fill="none" stroke="#000" stroke-width="0.9"/>
<g class="c">
<text x="311.7" y="205.4">44</text>
<text x="311.7" y="214.5">40</text>
<text x="311.7" y="223.5">35</text>
<text x="311.7" y="232.6">30</text>
<text x="311.7" y="241.7">25</text>
<text x="311.7" y="250.7">20</text>
<text x="311.7" y="259.8">15</text>
<text x="311.7" y="268.8">10</text>
<text x="311.7" y="277.9">5</text>
<text x="311.7" y="286.9">0</text>
<text x="308.8" y="296">-5</text>
<text x="308.8" y="305.1">-10</text>
<text x="308.8" y="314.1">-15</text>
<text x="308.8" y="323.2">-20</text>
<text x="310.2" y="192.8" text-anchor="middle">u(cm/s)</text>
</g>
<clipPath id="c4"><path d="M391.9 327.7A127.2 127.2 0 0 1 646.4 327.7L595.5 327.7A76.3 76.3 0 0 0 442.8 327.7Z"/></clipPath>
<g clip-path="url(#c4)">
<rect x="390.9" y="199.4" width="256.5" height="129.2" fill="#8bff00"/>
<path d="M408.4 331.3L408.4 327.2L409.7 315.6L412.3 306.4L416.2 297.2L421.5 289.3L426.1 280.1L432.7 270.9L438.6 263L439.2 251.9L431.4 249.2L436.6 244L443.2 244.6L449.8 240L456.3 235.4L453.7 241.4L458.9 242.7L464.2 241.4L469.5 238.7L478 237.4L480.9 232.2L478.3 224.3L479.6 216.4L482.2 209.8L486.1 204.6L494 200.6L512.4 198L538.7 198L563 203.3L584.3 213.8L652.6 266.3L652.6 331.3L601.4 331.3L601.4 302.4L600 276.1L594.8 263L589.5 255.8L584.3 247.9L573.8 237.4L558 225.6L551.8 224.3L546.6 237.4L554.5 247.9L563 253.2L525.6 255.8L473 261.1L472.1 270.9L456.3 295.8L444.5 331.3Z" fill="#e8ff00"/>
<path d="M443.2 237.4L445.8 230.8L451.1 226.2L458.9 221.6L466.8 217.7L473.4 215.1L472.1 219L465.5 223L458.9 226.9L453.7 230.8L448.4 236.1Z" fill="#2eff00"/>
<path d="M460.9 236.1L462.9 230.8L469.5 226.9L474.7 226.2L475.4 232.2L472.1 236.1L465.5 238.1Z" fill="#2eff00"/>
<path d="M461.6 226.2L469.5 223.6L478 221L478 223L469.5 225.6Z" fill="#e8ff00"/>
<path d="M473 221.6L476.9 223L477.6 229.5L476.3 236.1L473 237.4Z" fill="#2eff00"/>
<path d="M473 211.1L478.9 209.8L479.6 216.4L478.3 224.3L480.9 232.2L478.3 241.4L473 242.7Z" fill="#8bff00"/>
<path d="M473 221.6L476.9 223L477.6 229.5L476.3 236.1L473 237.4Z" fill="#2eff00"/>
<path d="M422.8 331.3L422.8 327.2L424.8 315.6L427.4 306.4L430 297.2L434 288L438.6 278.8L443.2 270.9L448.4 263L448.4 263L452.4 258.4L457.6 256.5L464.2 257.1L469.5 253.2L474.7 250.6L478 249.9L482.2 250.6L484.8 247.9L487.5 241.4L490.1 234.8L492.7 228.2L491.4 224.3L486.1 226.9L483.5 233.5L480.9 241.4L478.9 249.2L475.6 254.5L473 259.8L466.8 263L456.3 282.7L444.5 331.3Z" fill="#ffb900"/>
<path d="M423.7 318.2L426.8 316.2L428.1 320.8L427.4 327.2L423.5 327.2Z" fill="#e8ff00"/>
<path d="M439.2 331.3L439.2 327.2L437.3 318.2L434.6 312.9L436.6 305L438.6 297.2L437.3 291.9L440.6 285.3L445.8 276.1L451.1 269.6L455 263L461.6 263L458.9 268.3L455 274.8L451.7 280.1L450.4 285.3L448.4 290.6L445.8 302.4L443.8 315.6L443.2 331.3Z" fill="#ff5d00"/>
<path d="M486.1 208.5L490.1 205.9L496.6 205.2L498 209.8L496 213.8L499.3 217.7L507.2 216.4L511.1 219L508.5 223L503.2 224.3L499.3 221.6L495.3 224.3L491.4 221.6L487.5 216.4L485.5 212.5Z" fill="#ffb900"/>
<path d="M487.5 206.5L496.6 205.2L497.3 209.2L492.7 211.1L488.1 209.8Z" fill="#ff5d00"/>
<path d="M499.3 211.8L512.4 211.1L522.9 211.1L528.2 208.5L534.8 205.2L543.9 205.9L551.8 209.2L558.4 212.5L563 215.1L563 223L557.1 221.6L551.8 220.3L546.6 219.7L541.3 218.4L536.1 217.7L529.5 217.4L522.9 217.4L516.4 217.4L509.8 217.7L503.2 217.7L499.3 216.4Z" fill="#ffb900"/>
<path d="M528.2 209.2L534.8 209.6L534.5 212.5L528.8 212.2Z" fill="#e8ff00"/>
<path d="M538.7 213.8L546.6 214.4L545.9 216.7L539.4 216.1Z" fill="#e8ff00"/>
<path d="M499.3 230.8L504.5 228.9L511.1 232.2L517.7 234.8L525.6 236.8L529.5 238.7L525.6 240L517.7 238.1L509.8 236.1L503.2 235.4L499.3 233.5Z" fill="#ffb900"/>
<path d="M504.5 217.7L507.4 217.7L508.2 222.3L505.2 222.3Z" fill="#ff5d00"/>
<path d="M505.8 226.2L509.1 226.2L509.5 228.9L506.1 228.9Z" fill="#ff5d00"/>
<path d="M553.1 211.1L563 212.5L571.1 209.8L590.8 217.7L652.6 266.3L652.6 331.3L632.9 331.3L632.9 327.2L631.6 318.2L628.9 310.3L627.6 302.4L627 294.5L627.6 286.6L626.3 278.8L623.7 270.9L619.8 263L615.8 269.6L614.5 277.5L610.6 278.8L607.9 274.8L604 270.9L600 266.9L597.4 263L589.5 255.8L584.3 250.6L581.6 244L579 238.7L573.8 234.8L569.8 229.5L564.6 226.2L558 224.3L554.5 223L551.8 217.7Z" fill="#ffb900"/>
<path d="M553.1 212.5L557.1 211.1L563 211.8L565.9 213.1L575.1 217.7L584.3 223L592.2 228.2L597.4 233.5L602.7 238.7L606.6 244L610.6 250.6L614.5 257.1L618.4 263L621.1 263L623.7 268.3L627.6 273.5L630.3 278.1L634.2 278.8L632.9 273.5L627.6 263L623.7 261.1L615.8 251.9L607.9 242.7L600 234.8L589.5 227.6L588.2 228.9L589.5 230.8L594.8 236.1L600 242.7L602.7 249.2L601.4 251.9L596.1 249.9L589.5 246.6L586.2 242.7L581.6 237.4L576.4 232.2L571.1 227.6L564.6 224.3L558 222.3L558.4 217.7L554.5 215.1Z" fill="#ff5d00"/>
<path d="M588.9 229.3L592.4 229.5L597.4 233.5L602.7 238.7L606.6 244L610.6 250.6L614.5 257.1L617.8 263L613.2 263L610.6 257.1L603.3 249.9L602.7 248.6L600 242.7L594.8 236.1Z" fill="#ffb900"/>
<path d="M630.9 290.6L633.5 293.2L635.5 301.1L635.5 309L632.9 307.7L630.3 301.1L629.6 295.8Z" fill="#ff5d00"/>
<path d="M602 276.1L605.3 278.8L607.3 295.8L607.9 315.6L613.2 327.2L604 327.2L602.7 309L602 291.9Z" fill="#8bff00"/>
<path d="M609.2 282.7L611.9 281.4L613.2 297.2L611.2 302.4L609.9 291.9Z" fill="#8bff00"/>
<path d="M507.8 223L512.4 220.3L518.3 219L525.6 221L533.4 223L541.3 224.9L540 227.6L532.1 226.2L524.2 224.9L517.7 224.3L511.1 224.3Z" fill="#8bff00" stroke="#8bff00" stroke-width="2" stroke-linejoin="round"/>
<path d="M507.8 223L512.4 220.3L518.3 219L525.6 221L533.4 223L541.3 224.9L540 227.6L532.1 226.2L524.2 224.9L517.7 224.3L511.1 224.3Z" fill="#2eff00"/>
<path d="M507.8 229.5L512.4 227.6L519 228.9L525.6 230.8L533.4 232.8L541.3 234.8L546.6 237.4L541.3 238.1L533.4 236.1L525.6 234.1L517.7 232.8L511.1 231.5Z" fill="#8bff00" stroke="#8bff00" stroke-width="2" stroke-linejoin="round"/>
<path d="M507.8 229.5L512.4 227.6L519 228.9L525.6 230.8L533.4 232.8L541.3 234.8L546.6 237.4L541.3 238.1L533.4 236.1L525.6 234.1L517.7 232.8L511.1 231.5Z" fill="#2eff00"/>
<path d="M519 221.4L525.6 222L532.1 223.6L530.8 224.7L524.2 223.9L519 223Z" fill="#00ff8b"/>
<path d="M525.6 231.5L533.4 233.5L541.3 235.8L538.7 236.8L532.1 235.2L525.6 233.2Z" fill="#00ff8b"/>
<path d="M512.4 224.9L525.6 226.2L541.3 229.5L546.6 232.2L541.3 232.4L525.6 229.5L512.4 227.2Z" fill="#8bff00"/>
<path d="M512.4 237.4L522.9 240L533.4 242L546.6 242.7L551.8 246.6L543.9 247.3L530.8 246L520.3 244L512.4 241.4Z" fill="#8bff00"/>
<path d="M451.1 289.3L452.4 285.3L455 280.1L457.6 276.1L461.6 270.9L465.5 266.9L469.5 264.3L472.5 261.2L478.6 256.9L483.9 253.8L485.2 255.9L490.1 252.5L497 248.1L498.8 246.4L504 244.6L515 243.7L522.9 246.6L530.8 248.6L538.7 249.2L546.6 249.9L554.5 249.9L557.1 246.6L551.8 241.4L549.2 236.1L550.5 232.2L545.3 230.8L542 228.9L541.3 226.2L546.6 224.3L554.5 223.6L563 224.3L563.3 227.6L568.5 230.8L572.5 235.4L570.5 239.4L575.1 242.7L580.3 246.6L584.3 249.9L582.3 253.2L586.2 255.8L588.9 259.8L590.2 263L592.8 268.3L594.8 274.8L596.8 281.4L597.4 289.3L596.8 297.2L596.1 302.4L597.4 309L598.7 315.6L600 320.8L600 331.3L584.3 331.3L558 263L544.9 263L517.7 266.3L480 302.4Z" fill="#2eff00" stroke="#2eff00" stroke-width="4.8" stroke-linejoin="round"/>
<path d="M451.1 289.3L452.4 285.3L455 280.1L457.6 276.1L461.6 270.9L465.5 266.9L469.5 264.3L472.5 261.2L478.6 256.9L483.9 253.8L485.2 255.9L490.1 252.5L497 248.1L498.8 246.4L504 244.6L515 243.7L522.9 246.6L530.8 248.6L538.7 249.2L546.6 249.9L554.5 249.9L557.1 246.6L551.8 241.4L549.2 236.1L550.5 232.2L545.3 230.8L542 228.9L541.3 226.2L546.6 224.3L554.5 223.6L563 224.3L563.3 227.6L568.5 230.8L572.5 235.4L570.5 239.4L575.1 242.7L580.3 246.6L584.3 249.9L582.3 253.2L586.2 255.8L588.9 259.8L590.2 263L592.8 268.3L594.8 274.8L596.8 281.4L597.4 289.3L596.8 297.2L596.1 302.4L597.4 309L598.7 315.6L600 320.8L600 331.3L584.3 331.3L558 263L544.9 263L517.7 266.3L480 302.4Z" fill="#00ff2e" stroke="#00ff2e" stroke-width="3.6" stroke-linejoin="round"/>
<path d="M451.1 289.3L452.4 285.3L455 280.1L457.6 276.1L461.6 270.9L465.5 266.9L469.5 264.3L472.5 261.2L478.6 256.9L483.9 253.8L485.2 255.9L490.1 252.5L497 248.1L498.8 246.4L504 244.6L515 243.7L522.9 246.6L530.8 248.6L538.7 249.2L546.6 249.9L554.5 249.9L557.1 246.6L551.8 241.4L549.2 236.1L550.5 232.2L545.3 230.8L542 228.9L541.3 226.2L546.6 224.3L554.5 223.6L563 224.3L563.3 227.6L568.5 230.8L572.5 235.4L570.5 239.4L575.1 242.7L580.3 246.6L584.3 249.9L582.3 253.2L586.2 255.8L588.9 259.8L590.2 263L592.8 268.3L594.8 274.8L596.8 281.4L597.4 289.3L596.8 297.2L596.1 302.4L597.4 309L598.7 315.6L600 320.8L600 331.3L584.3 331.3L558 263L544.9 263L517.7 266.3L480 302.4Z" fill="#00ffe8" stroke="#00ffe8" stroke-width="2.4" stroke-linejoin="round"/>
<path d="M451.1 289.3L452.4 285.3L455 280.1L457.6 276.1L461.6 270.9L465.5 266.9L469.5 264.3L472.5 261.2L478.6 256.9L483.9 253.8L485.2 255.9L490.1 252.5L497 248.1L498.8 246.4L504 244.6L515 243.7L522.9 246.6L530.8 248.6L538.7 249.2L546.6 249.9L554.5 249.9L557.1 246.6L551.8 241.4L549.2 236.1L550.5 232.2L545.3 230.8L542 228.9L541.3 226.2L546.6 224.3L554.5 223.6L563 224.3L563.3 227.6L568.5 230.8L572.5 235.4L570.5 239.4L575.1 242.7L580.3 246.6L584.3 249.9L582.3 253.2L586.2 255.8L588.9 259.8L590.2 263L592.8 268.3L594.8 274.8L596.8 281.4L597.4 289.3L596.8 297.2L596.1 302.4L597.4 309L598.7 315.6L600 320.8L600 331.3L584.3 331.3L558 263L544.9 263L517.7 266.3L480 302.4Z" fill="#00b9ff" stroke="#00b9ff" stroke-width="1.2" stroke-linejoin="round"/>
<path d="M451.1 289.3L452.4 285.3L455 280.1L457.6 276.1L461.6 270.9L465.5 266.9L469.5 264.3L472.5 261.2L478.6 256.9L483.9 253.8L485.2 255.9L490.1 252.5L497 248.1L498.8 246.4L504 244.6L515 243.7L522.9 246.6L530.8 248.6L538.7 249.2L546.6 249.9L554.5 249.9L557.1 246.6L551.8 241.4L549.2 236.1L550.5 232.2L545.3 230.8L542 228.9L541.3 226.2L546.6 224.3L554.5 223.6L563 224.3L563.3 227.6L568.5 230.8L572.5 235.4L570.5 239.4L575.1 242.7L580.3 246.6L584.3 249.9L582.3 253.2L586.2 255.8L588.9 259.8L590.2 263L592.8 268.3L594.8 274.8L596.8 281.4L597.4 289.3L596.8 297.2L596.1 302.4L597.4 309L598.7 315.6L600 320.8L600 331.3L584.3 331.3L558 263L544.9 263L517.7 266.3L480 302.4Z" fill="#005dff"/>
<path d="M391.9 327.7L392 321L392.5 314.4L393.4 307.8L394.6 301.2L396.2 294.8L398.1 288.4L400.3 282.1L402.9 275.9L405.7 269.9L408.9 264.1L412.4 258.4L416.2 252.9L420.2 247.6L424.5 242.6L429.1 237.7L434 233.1L439 228.8L444.3 224.8L449.8 221L455.5 217.5L461.3 214.3L467.3 211.5L473.5 208.9L479.8 206.7L486.2 204.8L492.6 203.2L499.2 202L505.8 201.1L512.4 200.6L519.1 200.4L525.8 200.6L532.4 201.1L539 202L545.6 203.2L552 204.8L558.4 206.7L564.7 208.9L570.9 211.5L576.9 214.3L582.7 217.5L588.4 221L593.9 224.8L599.2 228.8L604.2 233.1L609.1 237.7L613.7 242.6L618 247.6L622 252.9L625.8 258.4L629.3 264.1L632.5 269.9L635.3 275.9L637.9 282.1L640.1 288.4L642 294.8L643.6 301.2L644.8 307.8L645.7 314.4L646.2 321L646.4 327.7" fill="none" stroke="#2eff00" stroke-width="3.6"/>
<path d="M391.9 327.7L392 321L392.5 314.4L393.4 307.8L394.6 301.2L396.2 294.8L398.1 288.4L400.3 282.1L402.9 275.9L405.7 269.9L408.9 264.1L412.4 258.4L416.2 252.9L420.2 247.6L424.5 242.6L429.1 237.7L434 233.1L439 228.8L444.3 224.8L449.8 221L455.5 217.5L461.3 214.3L467.3 211.5L473.5 208.9L479.8 206.7L486.2 204.8L492.6 203.2L499.2 202L505.8 201.1L512.4 200.6L519.1 200.4L525.8 200.6L532.4 201.1L539 202L545.6 203.2L552 204.8L558.4 206.7L564.7 208.9L570.9 211.5L576.9 214.3L582.7 217.5L588.4 221L593.9 224.8L599.2 228.8L604.2 233.1L609.1 237.7L613.7 242.6L618 247.6L622 252.9L625.8 258.4L629.3 264.1L632.5 269.9L635.3 275.9L637.9 282.1L640.1 288.4L642 294.8L643.6 301.2L644.8 307.8L645.7 314.4L646.2 321L646.4 327.7" fill="none" stroke="#00ff8b" stroke-width="2"/>
<path d="M486.2 204.8L492.8 203.2L499.5 202L506.3 201.1L513.1 200.6L520 200.5L526.8 200.7L533.6 201.3L540.4 202.2L547.1 203.6L553.7 205.2L560.2 207.3L566.6 209.7L572.9 212.4" fill="none" stroke="#005dff" stroke-width="1.4"/>
<path d="M442.8 327.7L442.9 323.7L443.2 319.7L443.7 315.8L444.4 311.8L445.4 307.9L446.5 304.1L447.8 300.3L449.4 296.6L451.1 293L453 289.5" fill="none" stroke="#00ff2e" stroke-width="1.6"/>
</g>
<path d="M391.9 327.7A127.2 127.2 0 0 1 646.4 327.7" fill="none" stroke="#000" stroke-width="1.1"/>
<path d="M442.8 327.7A76.3 76.3 0 0 1 595.5 327.7" fill="none" stroke="#000" stroke-width="1.1"/>
<path d="M391.4 327.7H646.9" stroke="#000" stroke-width="1.3" fill="none"/>
<path d="M391.9 328.2V199.9" stroke="#000" stroke-width="1.1" fill="none"/>
<path d="M391.9 325.6V329.8M396.9 326.2V329.2M402 326.2V329.2M407.1 326.2V329.2M412.2 326.2V329.2M417.3 325.6V329.8M422.4 326.2V329.2M427.5 326.2V329.2M432.6 326.2V329.2M437.7 326.2V329.2M442.8 325.6V329.8M447.8 326.2V329.2M452.9 326.2V329.2M458 326.2V329.2M463.1 326.2V329.2M468.2 325.6V329.8M473.3 326.2V329.2M478.4 326.2V329.2M483.5 326.2V329.2M488.6 326.2V329.2M493.7 325.6V329.8M498.7 326.2V329.2M503.8 326.2V329.2M508.9 326.2V329.2M514 326.2V329.2M519.1 325.6V329.8M524.2 326.2V329.2M529.3 326.2V329.2M534.4 326.2V329.2M539.5 326.2V329.2M544.6 325.6V329.8M549.6 326.2V329.2M554.7 326.2V329.2M559.8 326.2V329.2M564.9 326.2V329.2M570 325.6V329.8M575.1 326.2V329.2M580.2 326.2V329.2M585.3 326.2V329.2M590.4 326.2V329.2M595.5 325.6V329.8M600.5 326.2V329.2M605.6 326.2V329.2M610.7 326.2V329.2M615.8 326.2V329.2M620.9 325.6V329.8M626 326.2V329.2M631.1 326.2V329.2M636.2 326.2V329.2M641.3 326.2V329.2M646.4 325.6V329.8M389.8 327.7H394M390.4 322.6H393.4M390.4 317.5H393.4M390.4 312.4H393.4M390.4 307.3H393.4M389.8 302.2H394M390.4 297.2H393.4M390.4 292.1H393.4M390.4 287H393.4M390.4 281.9H393.4M389.8 276.8H394M390.4 271.7H393.4M390.4 266.6H393.4M390.4 261.5H393.4M390.4 256.4H393.4M389.8 251.3H394M390.4 246.3H393.4M390.4 241.2H393.4M390.4 236.1H393.4M390.4 231H393.4M389.8 225.9H394M390.4 220.8H393.4M390.4 215.7H393.4M390.4 210.6H393.4M390.4 205.5H393.4M389.8 200.4H394" stroke="#000" stroke-width="1.4" fill="none"/>
<g class="t">
<text x="391.9" y="335.3" text-anchor="middle">-250</text>
<text x="417.3" y="335.3" text-anchor="middle">-200</text>
<text x="442.8" y="335.3" text-anchor="middle">-150</text>
<text x="468.2" y="335.3" text-anchor="middle">-100</text>
<text x="493.7" y="335.3" text-anchor="middle">-50</text>
<text x="519.1" y="335.3" text-anchor="middle">0</text>
<text x="544.6" y="335.3" text-anchor="middle">50</text>
<text x="570" y="335.3" text-anchor="middle">100</text>
<text x="595.5" y="335.3" text-anchor="middle">150</text>
<text x="620.9" y="335.3" text-anchor="middle">200</text>
<text x="646.4" y="335.3" text-anchor="middle">250</text>
<text x="388.9" y="330.7" text-anchor="end">0</text>
<text x="388.9" y="305.2" text-anchor="end">50</text>
<text x="388.9" y="279.8" text-anchor="end">100</text>
<text x="388.9" y="254.3" text-anchor="end">150</text>
<text x="388.9" y="228.9" text-anchor="end">200</text>
<text x="388.9" y="203.4" text-anchor="end">250</text>
</g>
<text class="b" x="519.1" y="341.3" text-anchor="middle">X(cm)</text>
<text class="b" transform="translate(372.5 264.1) rotate(-90)" text-anchor="middle">Y(cm)</text>
<path d="M417.3 327.7V310.7" stroke="#000" stroke-width="1.2"/>
<path d="M417.3 301.4L412.2 311.6L422.4 311.6Z" fill="#000"/>
<path d="M620.9 299.4V318.7" stroke="#000" stroke-width="1.2"/>
<path d="M620.9 326.7L615.4 316.1L626.4 316.1Z" fill="#000"/>
<circle cx="519.1" cy="220.8" r="1.7" fill="#000"/>
<circle cx="519.1" cy="231" r="1.7" fill="#000"/>
<path d="M500.3 219.8L507.4 224.4" stroke="#000" stroke-width="0.9"/>
<path d="M499.2 225.9L506.4 230.5" stroke="#000" stroke-width="0.9"/>
<text class="io" x="392.3" y="349.2" textLength="31.8" lengthAdjust="spacingAndGlyphs">Inlet</text>
<text class="io" x="603.5" y="358.2" textLength="42.8" lengthAdjust="spacingAndGlyphs">Outlet</text>
<rect x="651.3" y="209.5" width="13.8" height="4.8" fill="#ff0000"/>
<rect x="651.3" y="214" width="13.8" height="9.4" fill="#ff5d00"/>
<rect x="651.3" y="223.1" width="13.8" height="9.4" fill="#ffb900"/>
<rect x="651.3" y="232.2" width="13.8" height="9.4" fill="#e8ff00"/>
<rect x="651.3" y="241.3" width="13.8" height="9.4" fill="#8bff00"/>
<rect x="651.3" y="250.4" width="13.8" height="9.4" fill="#2eff00"/>
<rect x="651.3" y="259.5" width="13.8" height="9.4" fill="#00ff2e"/>
<rect x="651.3" y="268.6" width="13.8" height="9.4" fill="#00ff8b"/>
<rect x="651.3" y="277.7" width="13.8" height="9.4" fill="#00ffe8"/>
<rect x="651.3" y="286.8" width="13.8" height="9.4" fill="#00b9ff"/>
<rect x="651.3" y="295.9" width="13.8" height="9.4" fill="#005dff"/>
<rect x="651.3" y="305" width="13.8" height="4.8" fill="#0000ff"/>
<path d="M651.3 214H665.1M651.3 223.1H665.1M651.3 232.2H665.1M651.3 241.3H665.1M651.3 250.4H665.1M651.3 259.5H665.1M651.3 268.6H665.1M651.3 277.7H665.1M651.3 286.8H665.1M651.3 295.9H665.1M651.3 305H665.1" stroke="#000" stroke-width="0.8" fill="none"/>
<rect x="651.3" y="209.5" width="13.8" height="100" fill="none" stroke="#000" stroke-width="0.9"/>
<g class="c">
<text x="671.7" y="218.8">44</text>
<text x="671.7" y="227.9">40</text>
<text x="671.7" y="237">35</text>
<text x="671.7" y="246.1">30</text>
<text x="671.7" y="255.2">25</text>
<text x="671.7" y="264.3">20</text>
<text x="671.7" y="273.4">15</text>
<text x="671.7" y="282.5">10</text>
<text x="671.7" y="291.6">5</text>
<text x="671.7" y="300.7">0</text>
<text x="668.8" y="309.8">-4</text>
<text x="667" y="206.8" text-anchor="middle">u(cm/s)</text>
</g>
<clipPath id="c5"><path d="M30.2 523.7A127.2 127.2 0 0 1 284.6 523.7L233.8 523.7A76.3 76.3 0 0 0 81.1 523.7Z"/></clipPath>
<g clip-path="url(#c5)">
<rect x="29.2" y="395.5" width="256.5" height="129.2" fill="#ffeb00"/>
<path d="M20.4 526.3L40.1 526.3L40.1 522.9L40.8 513.2L42.1 504L44.1 494.8L48 484.3L51.3 475.1L55.2 465.9L59.8 458L61.2 449.5L70.4 439L79.6 431.1L88.8 425.8L97.9 423.2L105.8 421.2L111.1 419.3L117 418.6L119.9 414L129.1 411.4L138.3 412.7L143.5 415.3L146.2 421.9L143.5 427.2L138.3 431.1L131.7 433.7L125.1 436.4L119.9 437.7L121.9 439L127.8 445.6L138.3 450.8L151.4 452.1L167.2 452.1L180.3 450.8L190.8 448.2L202 445.6L202 436.4L196.1 433.7L188.2 431.1L180.3 428.5L182.9 424.5L180.3 419.3L173.8 415.3L167.2 411.4L164.6 406.1L169.8 402.2L180.3 400.9L190.8 401.5L202 404.8L204.9 407.5L223.3 419.3L236.4 432.4L236.4 386.4L20.4 386.4Z" fill="#c4ff00"/>
<path d="M200.9 416L204.9 415.3L214.1 419.3L223.3 425.8L231.2 433.7L235.8 439.6L229.8 437.7L223.3 432.4L215.4 427.2L207.5 423.9L202.3 422.6Z" fill="#c4ff00"/>
<path d="M197 436.4L202.3 440.3L203.6 444.2L197 448.2Z" fill="#c4ff00"/>
<path d="M52 526.3L52 522.9L53.3 510.6L55.2 501.4L58.5 492.2L63.8 483L67.1 473.8L71.7 465.9L78.2 458L76.9 458L82.2 450.8L87.4 444.2L91.4 439L95.3 435L100.6 435.7L105.8 438.3L111.1 437L117 437L117.3 437L121.9 439L119.9 445.6L117.3 452.1L112 454.8L111.1 458L92.7 484.3L83.5 526.3Z" fill="#ff9d00"/>
<path d="M96.6 458L101.9 453.4L108.5 448.2L112.4 446.2L111.1 450.8L105.8 456.1L104.5 458Z" fill="#ff4e00"/>
<path d="M95.3 458L105.8 458L101.9 463.3L96.6 468.5L92.7 472.5L90.1 471.1L92.7 464.6Z" fill="#ff4e00"/>
<path d="M84.8 480.3L88.8 477.7L90.1 481.6L86.1 485.6L84.2 484.3Z" fill="#ff4e00"/>
<path d="M78.2 497.4L82.2 490.8L84.2 493.5L82.2 501.4L78.9 509.2L75.6 508.6L76.3 502.7Z" fill="#ff4e00"/>
<path d="M74.3 465.9L77.6 465.6L77.6 467.9L74.6 468.2Z" fill="#ffeb00"/>
<path d="M144.8 416.6L150.1 413.4L158 411.4L165.9 413.4L171.1 416.6L179 419.3L180.3 422.6L173.8 424.5L164.6 425.2L156.7 425.8L150.1 425.8L145.5 422.6Z" fill="#76ff00"/>
<path d="M150.1 419.3L156.7 418L164.6 419.3L171.1 420.6L164.6 422.6L156.7 423L150.8 422.6Z" fill="#00ff27"/>
<path d="M146.8 416.6L151.4 416.4L151.7 418.6L147.2 418.6Z" fill="#009dff"/>
<path d="M150.1 422.2L156.7 421.2L164.6 420.9L164.3 422.2L156.7 423L150.4 423.5Z" fill="#00ffc4"/>
<path d="M143.5 432.4L147.5 429.8L155.4 428.5L164.6 431.1L172.4 436.4L180.3 441.6L175.1 444.2L167.2 442.9L161.9 444.9L155.4 442.9L148.8 440.3L144.8 437.7Z" fill="#76ff00"/>
<path d="M199.6 453.4L207.5 452.8L215.4 456.1L218 458L222 458L228.5 463.3L227.9 467.2L223.3 467.9L216.7 464.6L208.8 461.3L204.9 458Z" fill="#ff9d00"/>
<path d="M250.9 441L254.8 445.6L260.1 453.4L262.7 458L258.8 458L254.8 450.8Z" fill="#ff9d00"/>
<path d="M261.4 458L265.3 458L269.3 468.5L269.9 475.1L267.3 473.8L265.3 465.9Z" fill="#ff9d00"/>
<path d="M278.5 515.8L281.7 513.2L282.4 522.9L279.1 522.9Z" fill="#ff9d00"/>
<path d="M236.4 526.3L237.1 510.6L239 502.7L246.9 498.7L253.5 500L256.1 507.9L254.8 526.3Z" fill="#c4ff00"/>
<path d="M238.4 526.3L239 510.6L243 509.2L246.9 514.5L247.6 526.3Z" fill="#76ff00"/>
<path d="M234.4 479L238.4 479.7L238.8 485.6L235.1 484.9Z" fill="#c4ff00"/>
<path d="M239 471.1L241.7 470.5L243.2 475.1L242.3 478L240.1 475.7Z" fill="#00ff76"/>
<path d="M218.7 469.2L222 469.6L222.8 473.5L219.6 473.1Z" fill="#00ff76"/>
<path d="M30.2 523.7L30.3 517L30.8 510.4L31.7 503.8L32.9 497.2L34.5 490.8L36.4 484.4L38.6 478.1L41.2 471.9L44 465.9L47.2 460.1L50.7 454.4L54.5 448.9L58.5 443.6L62.8 438.6L67.4 433.7L72.3 429.1L77.3 424.8L82.6 420.8L88.1 417L93.8 413.5L99.6 410.3L105.6 407.5L111.8 404.9L118.1 402.7L124.5 400.8L130.9 399.2L137.5 398L144.1 397.1L150.7 396.6L157.4 396.5L164.1 396.6L170.7 397.1L177.3 398L183.9 399.2L190.3 400.8L196.7 402.7L203 404.9L209.2 407.5L215.2 410.3L221 413.5L226.7 417L232.2 420.8L237.5 424.8L242.5 429.1L247.4 433.7L252 438.6L256.3 443.6L260.3 448.9L264.1 454.4L267.6 460.1L270.8 465.9L273.6 471.9L276.2 478.1L278.4 484.4L280.3 490.8L281.9 497.2L283.1 503.8L284 510.4L284.5 517L284.6 523.7" fill="none" stroke="#76ff00" stroke-width="4"/>
<path d="M30.2 523.7L30.3 517L30.8 510.4L31.7 503.8L32.9 497.2L34.5 490.8L36.4 484.4L38.6 478.1L41.2 471.9L44 465.9L47.2 460.1L50.7 454.4L54.5 448.9L58.5 443.6L62.8 438.6L67.4 433.7L72.3 429.1L77.3 424.8L82.6 420.8L88.1 417L93.8 413.5L99.6 410.3L105.6 407.5L111.8 404.9L118.1 402.7L124.5 400.8L130.9 399.2L137.5 398L144.1 397.1L150.7 396.6L157.4 396.5L164.1 396.6L170.7 397.1L177.3 398L183.9 399.2L190.3 400.8L196.7 402.7L203 404.9L209.2 407.5L215.2 410.3L221 413.5L226.7 417L232.2 420.8L237.5 424.8L242.5 429.1L247.4 433.7L252 438.6L256.3 443.6L260.3 448.9L264.1 454.4L267.6 460.1L270.8 465.9L273.6 471.9L276.2 478.1L278.4 484.4L280.3 490.8L281.9 497.2L283.1 503.8L284 510.4L284.5 517L284.6 523.7" fill="none" stroke="#00ff27" stroke-width="2.4"/>
<path d="M113.9 404.1L120.5 401.9L127.2 400.1L133.9 398.6L140.8 397.5L147.7 396.8L154.6 396.5L161.6 396.5L168.5 396.9L175.4 397.7L182.2 398.9L189 400.4L195.7 402.3L202.2 404.6L208.6 407.2L214.9 410.2L221 413.5" fill="none" stroke="#00ebff" stroke-width="1.8"/>
<path d="M81.1 523.7L81.2 519.7L81.5 515.7L82 511.8L82.7 507.8L83.7 503.9L84.8 500.1L86.1 496.3L87.7 492.6L89.4 489L91.3 485.5L93.4 482.1L95.6 478.8L98.1 475.7L100.7 472.6L103.4 469.7L106.3 467L109.4 464.4L112.5 461.9L115.8 459.7L119.2 457.6L122.7 455.7L126.3 454L130 452.4L133.8 451.1L137.6 450L141.5 449L145.5 448.3L149.4 447.8L153.4 447.5L157.4 447.4L161.4 447.5L165.4 447.8L169.3 448.3L173.3 449L177.2 450L181 451.1L184.8 452.4L188.5 454L192.1 455.7L195.6 457.6L199 459.7L202.3 461.9L205.4 464.4L208.5 467L211.4 469.7L214.1 472.6L216.7 475.7L219.2 478.8L221.4 482.1L223.5 485.5L225.4 489L227.1 492.6L228.7 496.3L230 500.1L231.1 503.9L232.1 507.8L232.8 511.8L233.3 515.7L233.6 519.7L233.8 523.7" fill="none" stroke="#76ff00" stroke-width="3.2"/>
<path d="M81.1 523.7L81.2 519.7L81.5 515.7L82 511.8L82.7 507.8L83.7 503.9L84.8 500.1L86.1 496.3L87.7 492.6L89.4 489L91.3 485.5L93.4 482.1L95.6 478.8L98.1 475.7L100.7 472.6L103.4 469.7L106.3 467L109.4 464.4L112.5 461.9L115.8 459.7L119.2 457.6L122.7 455.7L126.3 454L130 452.4L133.8 451.1L137.6 450L141.5 449L145.5 448.3L149.4 447.8L153.4 447.5L157.4 447.4L161.4 447.5L165.4 447.8L169.3 448.3L173.3 449L177.2 450L181 451.1L184.8 452.4L188.5 454L192.1 455.7L195.6 457.6L199 459.7L202.3 461.9L205.4 464.4L208.5 467L211.4 469.7L214.1 472.6L216.7 475.7L219.2 478.8L221.4 482.1L223.5 485.5L225.4 489L227.1 492.6L228.7 496.3L230 500.1L231.1 503.9L232.1 507.8L232.8 511.8L233.3 515.7L233.6 519.7L233.8 523.7" fill="none" stroke="#00ff27" stroke-width="1.8"/>
<path d="M144.1 448.5L148.2 447.9L152.3 447.5L156.4 447.4L160.5 447.4L164.6 447.7L168.6 448.2L172.7 448.9L176.7 449.8L180.6 451L184.5 452.3L188.3 453.9L192 455.6L195.6 457.6" fill="none" stroke="#009dff" stroke-width="2"/>
<path d="M206.5 465.2L209.6 468L212.6 470.9L215.3 474L218 477.2L220.4 480.6L222.7 484.1L224.7 487.7L226.6 491.4L228.3 495.3L229.7 499.2L230.9 503.1L231.9 507.2L232.7 511.3L233.3 515.4L233.6 519.5L233.8 523.7" fill="none" stroke="#c4ff00" stroke-width="8"/>
<path d="M195.6 457.6L199 459.7L202.3 461.9L205.4 464.4L208.5 467L211.4 469.7L214.1 472.6L216.7 475.7L219.2 478.8L221.4 482.1L223.5 485.5L225.4 489L227.1 492.6L228.7 496.3L230 500.1L231.1 503.9L232.1 507.8L232.8 511.8L233.3 515.7L233.6 519.7L233.8 523.7" fill="none" stroke="#76ff00" stroke-width="5.6"/>
<path d="M195.6 457.6L199 459.7L202.3 461.9L205.4 464.4L208.5 467L211.4 469.7L214.1 472.6L216.7 475.7L219.2 478.8L221.4 482.1L223.5 485.5L225.4 489L227.1 492.6L228.7 496.3L230 500.1L231.1 503.9L232.1 507.8L232.8 511.8L233.3 515.7L233.6 519.7L233.8 523.7" fill="none" stroke="#00ff27" stroke-width="2.8"/>
<path d="M254.9 441.9L259.5 447.7L263.7 453.8L267.6 460.1L271.1 466.6L274.2 473.3L277 480.2" fill="none" stroke="#009dff" stroke-width="2.4"/>
</g>
<path d="M30.2 523.7A127.2 127.2 0 0 1 284.6 523.7" fill="none" stroke="#000" stroke-width="1.1"/>
<path d="M81.1 523.7A76.3 76.3 0 0 1 233.8 523.7" fill="none" stroke="#000" stroke-width="1.1"/>
<path d="M29.7 523.7H285.1" stroke="#000" stroke-width="1.3" fill="none"/>
<path d="M30.2 524.2V396" stroke="#000" stroke-width="1.1" fill="none"/>
<path d="M30.2 521.6V525.8M35.2 522.2V525.2M40.3 522.2V525.2M45.4 522.2V525.2M50.5 522.2V525.2M55.6 521.6V525.8M60.7 522.2V525.2M65.8 522.2V525.2M70.9 522.2V525.2M76 522.2V525.2M81.1 521.6V525.8M86.1 522.2V525.2M91.2 522.2V525.2M96.3 522.2V525.2M101.4 522.2V525.2M106.5 521.6V525.8M111.6 522.2V525.2M116.7 522.2V525.2M121.8 522.2V525.2M126.9 522.2V525.2M132 521.6V525.8M137 522.2V525.2M142.1 522.2V525.2M147.2 522.2V525.2M152.3 522.2V525.2M157.4 521.6V525.8M162.5 522.2V525.2M167.6 522.2V525.2M172.7 522.2V525.2M177.8 522.2V525.2M182.8 521.6V525.8M187.9 522.2V525.2M193 522.2V525.2M198.1 522.2V525.2M203.2 522.2V525.2M208.3 521.6V525.8M213.4 522.2V525.2M218.5 522.2V525.2M223.6 522.2V525.2M228.7 522.2V525.2M233.8 521.6V525.8M238.8 522.2V525.2M243.9 522.2V525.2M249 522.2V525.2M254.1 522.2V525.2M259.2 521.6V525.8M264.3 522.2V525.2M269.4 522.2V525.2M274.5 522.2V525.2M279.6 522.2V525.2M284.6 521.6V525.8M28.1 523.7H32.3M28.7 518.6H31.7M28.7 513.5H31.7M28.7 508.4H31.7M28.7 503.3H31.7M28.1 498.3H32.3M28.7 493.2H31.7M28.7 488.1H31.7M28.7 483H31.7M28.7 477.9H31.7M28.1 472.8H32.3M28.7 467.7H31.7M28.7 462.6H31.7M28.7 457.5H31.7M28.7 452.4H31.7M28.1 447.4H32.3M28.7 442.3H31.7M28.7 437.2H31.7M28.7 432.1H31.7M28.7 427H31.7M28.1 421.9H32.3M28.7 416.8H31.7M28.7 411.7H31.7M28.7 406.6H31.7M28.7 401.5H31.7M28.1 396.5H32.3" stroke="#000" stroke-width="1.4" fill="none"/>
<g class="t">
<text x="30.2" y="531.3" text-anchor="middle">-250</text>
<text x="55.6" y="531.3" text-anchor="middle">-200</text>
<text x="81.1" y="531.3" text-anchor="middle">-150</text>
<text x="106.5" y="531.3" text-anchor="middle">-100</text>
<text x="132" y="531.3" text-anchor="middle">-50</text>
<text x="157.4" y="531.3" text-anchor="middle">0</text>
<text x="182.8" y="531.3" text-anchor="middle">50</text>
<text x="208.3" y="531.3" text-anchor="middle">100</text>
<text x="233.8" y="531.3" text-anchor="middle">150</text>
<text x="259.2" y="531.3" text-anchor="middle">200</text>
<text x="284.6" y="531.3" text-anchor="middle">250</text>
<text x="27.2" y="526.7" text-anchor="end">0</text>
<text x="27.2" y="501.3" text-anchor="end">50</text>
<text x="27.2" y="475.8" text-anchor="end">100</text>
<text x="27.2" y="450.4" text-anchor="end">150</text>
<text x="27.2" y="424.9" text-anchor="end">200</text>
<text x="27.2" y="399.5" text-anchor="end">250</text>
</g>
<text class="b" x="157.4" y="537.3" text-anchor="middle">X(cm)</text>
<text class="b" transform="translate(10.8 460.1) rotate(-90)" text-anchor="middle">Y(cm)</text>
<path d="M55.6 523.7V506.7" stroke="#000" stroke-width="1.2"/>
<path d="M55.6 497.4L50.5 507.6L60.7 507.6Z" fill="#000"/>
<path d="M259.2 495.4V514.7" stroke="#000" stroke-width="1.2"/>
<path d="M259.2 522.7L253.7 512.1L264.7 512.1Z" fill="#000"/>
<circle cx="157.4" cy="421.9" r="1.7" fill="#000"/>
<path d="M138.6 415.8L145.7 420.4" stroke="#000" stroke-width="0.9"/>
<path d="M137.5 421.9L144.7 426.5" stroke="#000" stroke-width="0.9"/>
<text class="io" x="42.2" y="547.5" textLength="31.8" lengthAdjust="spacingAndGlyphs">Inlet</text>
<text class="io" x="244.6" y="548.2" textLength="42.8" lengthAdjust="spacingAndGlyphs">Outlet</text>
<rect x="290.1" y="396.5" width="13.8" height="4.8" fill="#ff0000"/>
<rect x="290.1" y="401" width="13.8" height="9.4" fill="#ff4e00"/>
<rect x="290.1" y="410.1" width="13.8" height="9.4" fill="#ff9d00"/>
<rect x="290.1" y="419.2" width="13.8" height="9.4" fill="#ffeb00"/>
<rect x="290.1" y="428.3" width="13.8" height="9.4" fill="#c4ff00"/>
<rect x="290.1" y="437.3" width="13.8" height="9.4" fill="#76ff00"/>
<rect x="290.1" y="446.4" width="13.8" height="9.4" fill="#27ff00"/>
<rect x="290.1" y="455.5" width="13.8" height="9.4" fill="#00ff27"/>
<rect x="290.1" y="464.6" width="13.8" height="9.4" fill="#00ff76"/>
<rect x="290.1" y="473.7" width="13.8" height="9.4" fill="#00ffc4"/>
<rect x="290.1" y="482.7" width="13.8" height="9.4" fill="#00ebff"/>
<rect x="290.1" y="491.8" width="13.8" height="9.4" fill="#009dff"/>
<rect x="290.1" y="500.9" width="13.8" height="9.4" fill="#004eff"/>
<rect x="290.1" y="510" width="13.8" height="4.8" fill="#0000ff"/>
<path d="M290.1 401H303.9M290.1 410.1H303.9M290.1 419.2H303.9M290.1 428.3H303.9M290.1 437.3H303.9M290.1 446.4H303.9M290.1 455.5H303.9M290.1 464.6H303.9M290.1 473.7H303.9M290.1 482.7H303.9M290.1 491.8H303.9M290.1 500.9H303.9M290.1 510H303.9" stroke="#000" stroke-width="0.8" fill="none"/>
<rect x="290.1" y="396.5" width="13.8" height="118" fill="none" stroke="#000" stroke-width="0.9"/>
<g class="c">
<text x="310.5" y="405.8">47</text>
<text x="310.5" y="414.9">45</text>
<text x="310.5" y="424">40</text>
<text x="310.5" y="433.1">35</text>
<text x="310.5" y="442.1">30</text>
<text x="310.5" y="451.2">25</text>
<text x="310.5" y="460.3">20</text>
<text x="310.5" y="469.4">15</text>
<text x="310.5" y="478.5">10</text>
<text x="310.5" y="487.5">5</text>
<text x="310.5" y="496.6">0</text>
<text x="307.6" y="505.7">-5</text>
<text x="307.6" y="514.8">-9</text>
<text x="305.8" y="393.3" text-anchor="middle">u(cm/s)</text>
</g>
<clipPath id="c6"><path d="M389.2 523.7A127.2 127.2 0 0 1 643.8 523.7L592.9 523.7A76.3 76.3 0 0 0 440.1 523.7Z"/></clipPath>
<g clip-path="url(#c6)">
<rect x="388.2" y="395.5" width="256.5" height="129.2" fill="#aaff00"/>
<path d="M398.8 526.3L398.8 522.9L399.5 513.2L400.8 504L403.4 494.8L406.7 484.3L410 475.1L413.9 465.9L419.2 458L428.4 449.5L434.9 441.6L441.5 442.3L448.1 439L453.3 433.7L459.9 431.8L463.8 428.5L469.1 426.5L473 419.3L475 416.6L475.3 410.1L483.1 406.1L491 404.8L500.2 404.2L509.4 403.5L516 405.5L522.6 404.2L530.4 402.2L538.3 400.9L548.8 402.2L560 406.1L560 419.3L554.1 416.6L548.8 412.7L543.6 410.1L535.7 409.4L530.4 411.4L522.6 411.4L516 411.4L509.4 412.7L504.2 416.6L501.5 421.9L498.9 427.2L496.3 431.1L492.3 436.4L489.7 441.6L483.1 442.9L481.2 450.8L479.2 458.7L473.9 463.9L469.1 463.3L453.3 484.3L441.5 526.3Z" fill="#ffff00"/>
<path d="M548.8 402.2L560 406.1L560 416L560.3 418L565.5 422.6L569.5 425.8L574.7 424.5L581.3 426.5L587.8 429.8L594.4 433.7L599.7 439L603.6 445.6L607.6 452.1L611.5 458L611.5 463.3L616.8 468.5L619.4 475.1L623.3 481.6L625.9 489.5L628.6 497.4L632.5 505.3L635.1 513.2L636.5 526.3L649.6 526.3L649.6 458L594.4 406.1L555 393L548.8 393Z" fill="#ffff00"/>
<path d="M623.3 465.9L625.9 468.5L628.6 480.3L630.5 492.2L628.6 490.8L625.9 479Z" fill="#aaff00"/>
<path d="M577.3 443.6L580.6 442.9L583.9 444.9L581.9 448.2L579.3 446.9Z" fill="#ffff00"/>
<path d="M602.3 450.8L605.6 453.4L607.6 458L604.3 458Z" fill="#ffff00"/>
<path d="M410.6 526.3L410.6 522.9L411.9 510.6L413.9 501.4L417.2 492.2L422.4 483L425.7 473.8L430.3 465.9L436.2 458L436.2 458L441.5 450.8L446.8 449.5L453.3 451.5L457.3 453.4L461.2 449.5L466.5 445.6L471.7 443.6L475 444.2L475.3 443.6L477.9 448.2L476.6 454.8L472.6 458.7L470 461.3L466.5 460.6L450.7 484.3L441.5 526.3Z" fill="#ffaa00"/>
<path d="M452 460.6L457.3 461.9L455.9 465.9L452 471.1L449.4 472.5L450.7 465.9Z" fill="#ff5500"/>
<path d="M455.7 462.6L457.9 462.2L457.5 465.2L455.9 465.6Z" fill="#ff0000"/>
<path d="M442.8 480.3L446.8 477.7L448.1 481.6L444.1 484.3Z" fill="#ff5500"/>
<path d="M437.6 496.1L440.8 490.8L442.8 493.5L440.8 501.4L437.6 508.6L434.3 508.6L434.9 502.7Z" fill="#ff5500"/>
<path d="M433 465.6L436.2 465.4L436.2 467.9L433.2 468.2Z" fill="#ffff00"/>
<path d="M504.8 416L509.4 412.7L517.3 412.1L526.5 412.7L528.1 418.4L535 417.2L539.8 418.4L546.7 421.9L551.3 427.7L556.1 434.6L560.8 441.7L563 446.3L558.4 448.7L551.3 447.5L544.4 445.2L535 444.1L528.1 441.7L521 439.4L514 438.2L507.1 435.8L501.5 435L502.8 431.1L505.5 427.8L503.5 423.2Z" fill="#55ff00"/>
<path d="M495 437.7L501.5 437L502.8 442.9L497.6 445.6L494.3 442.3Z" fill="#55ff00"/>
<path d="M555 437.7L558.9 439L562.9 445.6L560.3 449.5L555 450.8Z" fill="#55ff00"/>
<path d="M528.5 419.3L530.4 419.3L531 441.6L528.9 441.6Z" fill="#aaff00"/>
<path d="M535.7 425.8L540.9 424.5L543.6 428.5L539.6 431.1L536.4 429.8Z" fill="#aaff00"/>
<path d="M504.8 418L508.1 414.7L514.7 413.4L522.6 414.7L527.8 416.6L526.5 418.6L519.9 418.6L513.4 419L507.4 419.3Z" fill="#55ff00" stroke="#55ff00" stroke-width="1.6" stroke-linejoin="round"/>
<path d="M504.8 418L508.1 414.7L514.7 413.4L522.6 414.7L527.8 416.6L526.5 418.6L519.9 418.6L513.4 419L507.4 419.3Z" fill="#00ff00"/>
<path d="M504.8 425.8L508.1 423.2L514.7 423.9L522.6 425.2L530.4 426.5L529.8 428.5L522.6 428.7L514.7 428.2L507.4 427.4Z" fill="#55ff00" stroke="#55ff00" stroke-width="1.6" stroke-linejoin="round"/>
<path d="M504.8 425.8L508.1 423.2L514.7 423.9L522.6 425.2L530.4 426.5L529.8 428.5L522.6 428.7L514.7 428.2L507.4 427.4Z" fill="#00ff00"/>
<path d="M508.4 417L514 416.4L514.3 417.6L509 418Z" fill="#00ffaa"/>
<path d="M518.4 416L523.9 416.5L523.6 417.3L518.4 417Z" fill="#00ff55"/>
<path d="M508.6 424.9L514.1 424.8L514.4 425.8L509 426.1Z" fill="#00ff55"/>
<path d="M518.4 426.1L526.5 426.9L526.1 427.8L518.4 427.3Z" fill="#00ffaa"/>
<path d="M582.6 467.2L589.2 469.8L597 475.1L604.9 480.3L611.5 479L615.4 484.3L614.1 492.2L615.4 500L612.8 507.9L611.5 515.8L607.6 526.3L599.7 526.3L601 513.2L598.4 505.3L594.4 497.4L590.5 489.5L586.5 481.6L583.9 473.8Z" fill="#55ff00"/>
<path d="M569.5 464.6L577.3 467.2L582.6 472.5L586.5 480.3L591.1 489.5L595.7 498.7L600.3 507.9L602.3 515.8L603.4 526.3L581.3 526.3L555 458Z" fill="#00ff00" stroke="#00ff00" stroke-width="1.6" stroke-linejoin="round"/>
<path d="M569.5 464.6L577.3 467.2L582.6 472.5L586.5 480.3L591.1 489.5L595.7 498.7L600.3 507.9L602.3 515.8L603.4 526.3L581.3 526.3L555 458Z" fill="#00ff55"/>
<path d="M572.1 467.2L578.6 472.5L583.2 480.3L587.6 489.5L591.8 498.7L595.1 507.9L597 517.1L597.7 526.3L581.3 526.3L555 458Z" fill="#00ffaa"/>
<path d="M573.4 469.8L578.6 476.4L583.2 485.6L587.2 496.1L589.4 504L586.5 504L555 458Z" fill="#00ffff"/>
<path d="M570.1 465.9L577.3 469.2L579.3 472.5L576 474.4L572.7 471.1Z" fill="#0055ff"/>
<path d="M389.2 523.7L389.4 517L389.9 510.4L390.8 503.8L392 497.2L393.6 490.8L395.5 484.4L397.7 478.1L400.3 471.9L403.1 465.9L406.3 460.1L409.8 454.4L413.6 448.9L417.6 443.6L421.9 438.6L426.5 433.7L431.4 429.1L436.4 424.8L441.7 420.8L447.2 417L452.9 413.5L458.7 410.3L464.7 407.5L470.9 404.9L477.2 402.7L483.6 400.8L490 399.2L496.6 398L503.2 397.1L509.8 396.6L516.5 396.5L523.2 396.6L529.8 397.1L536.4 398L543 399.2L549.4 400.8L555.8 402.7L562.1 404.9L568.3 407.5L574.3 410.3L580.1 413.5L585.8 417L591.3 420.8L596.6 424.8L601.6 429.1L606.5 433.7L611.1 438.6L615.4 443.6L619.4 448.9L623.2 454.4L626.7 460.1L629.9 465.9L632.7 471.9L635.3 478.1L637.5 484.4L639.4 490.8L641 497.2L642.2 503.8L643.1 510.4L643.6 517L643.8 523.7" fill="none" stroke="#55ff00" stroke-width="5.2"/>
<path d="M389.2 523.7L389.4 517L389.9 510.4L390.8 503.8L392 497.2L393.6 490.8L395.5 484.4L397.7 478.1L400.3 471.9L403.1 465.9L406.3 460.1L409.8 454.4L413.6 448.9L417.6 443.6L421.9 438.6L426.5 433.7L431.4 429.1L436.4 424.8L441.7 420.8L447.2 417L452.9 413.5L458.7 410.3L464.7 407.5L470.9 404.9L477.2 402.7L483.6 400.8L490 399.2L496.6 398L503.2 397.1L509.8 396.6L516.5 396.5L523.2 396.6L529.8 397.1L536.4 398L543 399.2L549.4 400.8L555.8 402.7L562.1 404.9L568.3 407.5L574.3 410.3L580.1 413.5L585.8 417L591.3 420.8L596.6 424.8L601.6 429.1L606.5 433.7L611.1 438.6L615.4 443.6L619.4 448.9L623.2 454.4L626.7 460.1L629.9 465.9L632.7 471.9L635.3 478.1L637.5 484.4L639.4 490.8L641 497.2L642.2 503.8L643.1 510.4L643.6 517L643.8 523.7" fill="none" stroke="#00ff00" stroke-width="2.8"/>
<path d="M473 404.1L479.6 401.9L486.3 400.1L493 398.6L499.9 397.5L506.8 396.8L513.7 396.5L520.7 396.5L527.6 396.9L534.5 397.7L541.3 398.9L548.1 400.4L554.8 402.3L561.3 404.6L567.7 407.2L574 410.2L580.1 413.5" fill="none" stroke="#0055ff" stroke-width="1.6"/>
<path d="M616.8 445.4L622 452.5L626.7 460.1" fill="none" stroke="#0055ff" stroke-width="3.2"/>
<path d="M440.1 523.7L440.3 519.7L440.6 515.7L441.1 511.8L441.8 507.8L442.8 503.9L443.9 500.1L445.2 496.3L446.8 492.6L448.5 489L450.4 485.5L452.5 482.1L454.7 478.8L457.2 475.7L459.8 472.6L462.5 469.7L465.4 467L468.5 464.4L471.6 461.9L474.9 459.7L478.3 457.6L481.8 455.7L485.4 454L489.1 452.4L492.9 451.1L496.7 450L500.6 449L504.6 448.3L508.5 447.8L512.5 447.5L516.5 447.4L520.5 447.5L524.5 447.8L528.4 448.3L532.4 449L536.3 450L540.1 451.1L543.9 452.4L547.6 454L551.2 455.7L554.7 457.6" fill="none" stroke="#55ff00" stroke-width="3.2"/>
<path d="M440.1 523.7L440.3 519.7L440.6 515.7L441.1 511.8L441.8 507.8L442.8 503.9L443.9 500.1L445.2 496.3L446.8 492.6L448.5 489L450.4 485.5L452.5 482.1L454.7 478.8L457.2 475.7L459.8 472.6L462.5 469.7L465.4 467L468.5 464.4L471.6 461.9L474.9 459.7L478.3 457.6L481.8 455.7L485.4 454L489.1 452.4L492.9 451.1L496.7 450L500.6 449L504.6 448.3L508.5 447.8L512.5 447.5L516.5 447.4L520.5 447.5L524.5 447.8L528.4 448.3L532.4 449L536.3 450L540.1 451.1L543.9 452.4L547.6 454L551.2 455.7L554.7 457.6" fill="none" stroke="#00ff55" stroke-width="1.8"/>
<path d="M536.3 450L540.5 451.2L544.7 452.7L548.8 454.5L552.7 456.5L556.6 458.7L560.3 461.2" fill="none" stroke="#0055ff" stroke-width="2.4"/>
</g>
<path d="M389.2 523.7A127.2 127.2 0 0 1 643.8 523.7" fill="none" stroke="#000" stroke-width="1.1"/>
<path d="M440.1 523.7A76.3 76.3 0 0 1 592.9 523.7" fill="none" stroke="#000" stroke-width="1.1"/>
<path d="M388.8 523.7H644.2" stroke="#000" stroke-width="1.3" fill="none"/>
<path d="M389.2 524.2V396" stroke="#000" stroke-width="1.1" fill="none"/>
<path d="M389.2 521.6V525.8M394.3 522.2V525.2M399.4 522.2V525.2M404.5 522.2V525.2M409.6 522.2V525.2M414.7 521.6V525.8M419.8 522.2V525.2M424.9 522.2V525.2M430 522.2V525.2M435.1 522.2V525.2M440.1 521.6V525.8M445.2 522.2V525.2M450.3 522.2V525.2M455.4 522.2V525.2M460.5 522.2V525.2M465.6 521.6V525.8M470.7 522.2V525.2M475.8 522.2V525.2M480.9 522.2V525.2M486 522.2V525.2M491.1 521.6V525.8M496.1 522.2V525.2M501.2 522.2V525.2M506.3 522.2V525.2M511.4 522.2V525.2M516.5 521.6V525.8M521.6 522.2V525.2M526.7 522.2V525.2M531.8 522.2V525.2M536.9 522.2V525.2M542 521.6V525.8M547 522.2V525.2M552.1 522.2V525.2M557.2 522.2V525.2M562.3 522.2V525.2M567.4 521.6V525.8M572.5 522.2V525.2M577.6 522.2V525.2M582.7 522.2V525.2M587.8 522.2V525.2M592.9 521.6V525.8M597.9 522.2V525.2M603 522.2V525.2M608.1 522.2V525.2M613.2 522.2V525.2M618.3 521.6V525.8M623.4 522.2V525.2M628.5 522.2V525.2M633.6 522.2V525.2M638.7 522.2V525.2M643.8 521.6V525.8M387.1 523.7H391.4M387.8 518.6H390.8M387.8 513.5H390.8M387.8 508.4H390.8M387.8 503.3H390.8M387.1 498.3H391.4M387.8 493.2H390.8M387.8 488.1H390.8M387.8 483H390.8M387.8 477.9H390.8M387.1 472.8H391.4M387.8 467.7H390.8M387.8 462.6H390.8M387.8 457.5H390.8M387.8 452.4H390.8M387.1 447.4H391.4M387.8 442.3H390.8M387.8 437.2H390.8M387.8 432.1H390.8M387.8 427H390.8M387.1 421.9H391.4M387.8 416.8H390.8M387.8 411.7H390.8M387.8 406.6H390.8M387.8 401.5H390.8M387.1 396.5H391.4" stroke="#000" stroke-width="1.4" fill="none"/>
<g class="t">
<text x="389.2" y="531.3" text-anchor="middle">-250</text>
<text x="414.7" y="531.3" text-anchor="middle">-200</text>
<text x="440.1" y="531.3" text-anchor="middle">-150</text>
<text x="465.6" y="531.3" text-anchor="middle">-100</text>
<text x="491.1" y="531.3" text-anchor="middle">-50</text>
<text x="516.5" y="531.3" text-anchor="middle">0</text>
<text x="542" y="531.3" text-anchor="middle">50</text>
<text x="567.4" y="531.3" text-anchor="middle">100</text>
<text x="592.9" y="531.3" text-anchor="middle">150</text>
<text x="618.3" y="531.3" text-anchor="middle">200</text>
<text x="643.8" y="531.3" text-anchor="middle">250</text>
<text x="386.2" y="526.7" text-anchor="end">0</text>
<text x="386.2" y="501.3" text-anchor="end">50</text>
<text x="386.2" y="475.8" text-anchor="end">100</text>
<text x="386.2" y="450.4" text-anchor="end">150</text>
<text x="386.2" y="424.9" text-anchor="end">200</text>
<text x="386.2" y="399.5" text-anchor="end">250</text>
</g>
<text class="b" x="516.5" y="537.3" text-anchor="middle">X(cm)</text>
<text class="b" transform="translate(369.9 460.1) rotate(-90)" text-anchor="middle">Y(cm)</text>
<path d="M414.7 523.7V506.7" stroke="#000" stroke-width="1.2"/>
<path d="M414.7 497.4L409.6 507.6L419.8 507.6Z" fill="#000"/>
<path d="M618.3 495.4V514.7" stroke="#000" stroke-width="1.2"/>
<path d="M618.3 522.7L612.8 512.1L623.8 512.1Z" fill="#000"/>
<circle cx="516.5" cy="416.8" r="1.7" fill="#000"/>
<circle cx="516.5" cy="427" r="1.7" fill="#000"/>
<path d="M497.7 415.8L504.8 420.4" stroke="#000" stroke-width="0.9"/>
<path d="M496.6 421.9L503.8 426.5" stroke="#000" stroke-width="0.9"/>
<text class="io" x="399.8" y="546.3" textLength="31.8" lengthAdjust="spacingAndGlyphs">Inlet</text>
<text class="io" x="601.4" y="545.7" textLength="42.8" lengthAdjust="spacingAndGlyphs">Outlet</text>
<rect x="648.7" y="407" width="13.8" height="4.9" fill="#ff0000"/>
<rect x="648.7" y="411.6" width="13.8" height="9.4" fill="#ff5500"/>
<rect x="648.7" y="420.7" width="13.8" height="9.4" fill="#ffaa00"/>
<rect x="648.7" y="429.8" width="13.8" height="9.4" fill="#ffff00"/>
<rect x="648.7" y="438.9" width="13.8" height="9.4" fill="#aaff00"/>
<rect x="648.7" y="448" width="13.8" height="9.4" fill="#55ff00"/>
<rect x="648.7" y="457.1" width="13.8" height="9.4" fill="#00ff00"/>
<rect x="648.7" y="466.3" width="13.8" height="9.4" fill="#00ff55"/>
<rect x="648.7" y="475.4" width="13.8" height="9.4" fill="#00ffaa"/>
<rect x="648.7" y="484.5" width="13.8" height="9.4" fill="#00ffff"/>
<rect x="648.7" y="493.6" width="13.8" height="9.4" fill="#00aaff"/>
<rect x="648.7" y="502.7" width="13.8" height="9.4" fill="#0055ff"/>
<rect x="648.7" y="511.8" width="13.8" height="4.9" fill="#0000ff"/>
<path d="M648.7 411.6H662.5M648.7 420.7H662.5M648.7 429.8H662.5M648.7 438.9H662.5M648.7 448H662.5M648.7 457.1H662.5M648.7 466.3H662.5M648.7 475.4H662.5M648.7 484.5H662.5M648.7 493.6H662.5M648.7 502.7H662.5M648.7 511.8H662.5" stroke="#000" stroke-width="0.8" fill="none"/>
<rect x="648.7" y="407" width="13.8" height="109.4" fill="none" stroke="#000" stroke-width="0.9"/>
<g class="c">
<text x="669.1" y="416.4">46</text>
<text x="669.1" y="425.5">45</text>
<text x="669.1" y="434.6">40</text>
<text x="669.1" y="443.7">35</text>
<text x="669.1" y="452.8">30</text>
<text x="669.1" y="461.9">25</text>
<text x="669.1" y="471.1">20</text>
<text x="669.1" y="480.2">15</text>
<text x="669.1" y="489.3">10</text>
<text x="669.1" y="498.4">5</text>
<text x="669.1" y="507.5">0</text>
<text x="666.2" y="516.6">-2</text>
<text x="664.6" y="403.8" text-anchor="middle">u(cm/s)</text>
</g>
<clipPath id="c7"><path d="M27.3 718.9A127.2 127.2 0 0 1 281.9 718.9L230.9 718.9A76.3 76.3 0 0 0 78.2 718.9Z"/></clipPath>
<g clip-path="url(#c7)">
<rect x="26.3" y="590.6" width="256.5" height="129.2" fill="#ffaa00"/>
<path d="M42.4 722.3L42.4 718.5L43.7 710.5L45.7 701.3L48.3 690.8L50.9 680.3L54.2 669.8L58.2 661.9L62.1 654L62.1 646.8L68.7 642.9L75.2 637.6L73.9 631L79.2 625.8L85.8 620.5L92.3 615.3L97.6 614L101.5 617.9L97.6 621.8L92.3 627.1L91 633.7L94.9 632.4L92.3 638.9L89.7 645.5L92.3 648.1L97.6 646.8L102.8 648.1L108.1 644.2L114 645.5L114.3 641.6L114.9 644.2L110.3 646.2L109 648.1L108.1 656.6L89.7 680.3L80.5 722.3Z" fill="#ff5500"/>
<path d="M111.4 607.4L116 605.4L116 610Z" fill="#ff5500"/>
<path d="M111.6 608.7L115.6 606.1L116.2 608.7L112.3 610.7Z" fill="#ff5500"/>
<path d="M87.1 667.1L92.3 659.9L96 662.5L91 671.1Z" fill="#ffff00"/>
<path d="M89.7 664.5L92.3 662.9L93.9 665.2L91.3 667.4Z" fill="#55ff00"/>
<path d="M106.8 621.8L110.7 619.2L114 618.6L109 619.2L114.3 614L120.8 610L128.7 607.4L135.3 604.8L141.8 603.5L148.4 604.1L156.3 604.8L164.2 604.1L170.8 603.5L174.7 598.2L177.3 596.2L180.6 600.8L185.2 606.1L190.5 610L194.4 615.3L193.1 621.8L187.8 624.5L182.6 621.8L177.3 623.2L174.7 620.5L170.8 619.2L165.5 619.9L161.6 621.2L155 621.8L148.4 622.5L143.2 623.2L139.2 625.8L135.3 628.4L128.7 631L122.1 632.4L115.6 633.7L109 632.4L114 638.9L109.4 637.6L106.8 632.4L106.1 627.1Z" fill="#ffff00"/>
<path d="M135.3 629.7L143.2 627.1L152.4 624.5L161.6 626.4L168.1 625.8L174.7 628.4L179.9 632.4L187.8 635L193.1 637.6L199 638.9L207.1 641.6L211.1 648.1L209.8 654L194 654L187.8 642.9L174.7 641.6L161.6 641.6L148.4 641.6L141.8 641.6L135.3 638.9L131.3 635Z" fill="#ffff00"/>
<path d="M194 614.6L199.3 615.3L204.5 619.2L209.1 623.8L207.1 626.4L200.6 625.8L194 627.1L193.1 621.8L194.4 615.3Z" fill="#ffff00"/>
<path d="M98.9 644.2L102.8 640.9L106.1 640.2L105.5 644.2L101.5 646.8Z" fill="#ffff00"/>
<path d="M100.9 644.2L103.5 642.2L104.4 643.5L102.2 645.5Z" fill="#55ff00"/>
<path d="M110.7 625.8L114.7 625.1L114.7 635L111.4 634.3Z" fill="#aaff00"/>
<path d="M112.7 628.7L118.9 621.6L125 615.4L129.1 611.4L135.2 607.3L140.3 604.7L145.4 605.2L150.5 606.2L155.7 607.3L160.8 606.8L167.9 607.3L173 608.8L175.1 611.9L174.1 615.4L173 618.5L167.9 619L162.8 619.5L158.7 619L153.6 619.5L149.5 621.1L145.4 622.1L140.3 623.1L135.2 625.7L130.1 628.7L125 630.3L118.9 632.8L113.8 633.8Z" fill="#aaff00"/>
<path d="M116.8 625.7L125 618.5L130.1 614.4L135.2 610.3L140.3 607.3L145.4 607.8L149.5 609.3L155.7 610.3L158.7 612.4L155.7 615.4L150.5 617.5L145.4 620L140.3 621.1L135.2 623.6L130.1 626.7L125 628.2L118.9 630.8Z" fill="#55ff00"/>
<path d="M131.1 615.4L136.2 611.4L141.4 610.3L145.4 612.4L144.4 616.5L140.3 619L135.2 620.5L131.1 620.5Z" fill="#00ff00"/>
<path d="M140.3 607.8L143.9 607.3L144.4 610.3L141.4 610.8Z" fill="#00ffaa"/>
<path d="M141.4 608.3L143.2 608.1L143.4 609.8L141.8 610Z" fill="#00ffff"/>
<path d="M144.9 611.9L153.6 611.4L154.1 614.9L145.4 615.4Z" fill="#00ff55"/>
<path d="M146.5 612.6L152.1 612.2L152.4 614.2L147 614.6Z" fill="#00ffaa"/>
<path d="M141.9 619L144.9 618.7L145.2 620.5L142.4 620.8Z" fill="#00ffaa"/>
<path d="M157.7 613.9L163.8 611.9L170 612.4L172 613.9L168.9 615.4L163.8 615.4L158.7 617.5Z" fill="#55ff00"/>
<path d="M155.7 615.9L159.7 614.9L163.8 615.9L160.8 618L156.7 618.3Z" fill="#00ff00"/>
<path d="M147.1 638.9L151 633.7L158.9 631L166.8 632.4L170.8 636.3L169.4 640.2L161.6 640.9L152.4 640.9Z" fill="#aaff00"/>
<path d="M174.7 639.6L179.9 637L187.8 638.3L193.1 640.9L190.5 643.5L182.6 643.5L176 642.2Z" fill="#aaff00" stroke="#aaff00" stroke-width="2" stroke-linejoin="round"/>
<path d="M174.7 639.6L179.9 637L187.8 638.3L193.1 640.9L190.5 643.5L182.6 643.5L176 642.2Z" fill="#00ff00"/>
<path d="M179.3 639.2L187.8 639.6L189.1 641.3L180.6 641.8Z" fill="#00ffff"/>
<path d="M194 637.6L201.9 640.2L207.1 645.5L204.5 648.1L194 646.8Z" fill="#aaff00"/>
<path d="M194 640.2L199.3 641.6L199.9 644.2L194 645.2Z" fill="#00ff00"/>
<path d="M116.9 648.1L124.8 644.2L126.1 646.8L119.5 650.8Z" fill="#55ff00"/>
<path d="M194.4 629.7L199 631L199 633L195.1 631.7Z" fill="#ff5500"/>
<path d="M199.3 604.1L207.1 605.4L215 609.4L221.6 614L220.3 615.9L213.7 613.3L207.1 610L200.6 606.7Z" fill="#ff5500"/>
<path d="M195.3 629.7L201.9 630.4L209.8 633.7L215.7 632.4L220.3 637.6L226.8 640.9L236 641.6L242.6 645.5L240.6 638.9L238.7 632.4L234.7 627.1L232.1 623.2L237.4 627.1L249.2 640.2L288.6 654L288.6 722.3L265.6 722.3L265.6 718.5L267.6 710.5L270.2 702.6L267.6 693.4L263.6 686.8L262.3 680.3L259.7 685.5L255.8 686.8L251.8 681.6L246.6 673.7L241.3 665.8L236 659.3L228.2 656.6L220.3 657.9L213.7 659.3L219 663.2L224.2 665.8L228.2 666.5L226.8 669.8L221.6 676.3L222.2 677.6L213.7 669.8L201.9 659.3L194 654L213.7 646.8L209.8 641.6L204.5 636.3L197.9 633Z" fill="#ff5500"/>
<path d="M196.6 654L205.8 654L213.7 659.3L219 663.2L220.3 667.1L215 664.5L207.1 660.6L200.6 656.6Z" fill="#ffaa00"/>
<path d="M207.1 654L211.1 654L211.3 655.6L207.7 655.8Z" fill="#ffff00"/>
<path d="M222.2 677.6L226.8 682.9L232.1 690.8L238.7 698.7L243.9 706.6L245.9 714.4L245.9 722.3L220.3 722.3L207.1 667.1Z" fill="#ffff00" stroke="#ffff00" stroke-width="2.4" stroke-linejoin="round"/>
<path d="M222.2 677.6L226.8 682.9L232.1 690.8L238.7 698.7L243.9 706.6L245.9 714.4L245.9 722.3L220.3 722.3L207.1 667.1Z" fill="#aaff00"/>
<path d="M262.3 661.9L265.6 664.5L268.2 671.1L264.9 668.5Z" fill="#ffff00"/>
<path d="M264 664.8L265.7 666.1L266.5 668.7L264.9 667.4Z" fill="#55ff00"/>
<path d="M27.3 718.9L27.5 712.2L28 705.6L28.9 699L30.1 692.4L31.7 686L33.6 679.6L35.8 673.3L38.4 667.1L41.2 661.1L44.4 655.3L47.9 649.6L51.7 644.1L55.7 638.8L60 633.8L64.6 628.9L69.5 624.3L74.5 620L79.8 616L85.3 612.2L91 608.7L96.8 605.5L102.8 602.7L109 600.1L115.3 597.9L121.7 596L128.1 594.4L134.7 593.2L141.3 592.3L147.9 591.8L154.6 591.6L161.3 591.8L167.9 592.3L174.5 593.2L181.1 594.4L187.5 596L193.9 597.9L200.2 600.1L206.4 602.7L212.4 605.5L218.2 608.7L223.9 612.2L229.4 616L234.7 620L239.7 624.3L244.6 628.9L249.2 633.8L253.5 638.8L257.5 644.1L261.3 649.6L264.8 655.3L268 661.1L270.8 667.1L273.4 673.3L275.6 679.6L277.5 686L279.1 692.4L280.3 699L281.2 705.6L281.7 712.2L281.9 718.9" fill="none" stroke="#ffff00" stroke-width="4"/>
<path d="M27.3 718.9L27.5 712.2L28 705.6L28.9 699L30.1 692.4L31.7 686L33.6 679.6L35.8 673.3L38.4 667.1L41.2 661.1L44.4 655.3L47.9 649.6L51.7 644.1L55.7 638.8L60 633.8L64.6 628.9L69.5 624.3L74.5 620L79.8 616L85.3 612.2L91 608.7L96.8 605.5L102.8 602.7L109 600.1L115.3 597.9L121.7 596L128.1 594.4L134.7 593.2L141.3 592.3L147.9 591.8L154.6 591.6L161.3 591.8L167.9 592.3L174.5 593.2L181.1 594.4L187.5 596L193.9 597.9L200.2 600.1L206.4 602.7L212.4 605.5L218.2 608.7L223.9 612.2L229.4 616L234.7 620L239.7 624.3L244.6 628.9L249.2 633.8L253.5 638.8L257.5 644.1L261.3 649.6L264.8 655.3L268 661.1L270.8 667.1L273.4 673.3L275.6 679.6L277.5 686L279.1 692.4L280.3 699L281.2 705.6L281.7 712.2L281.9 718.9" fill="none" stroke="#55ff00" stroke-width="2"/>
<path d="M78.2 718.9L78.4 714.9L78.7 710.9L79.2 707L79.9 703L80.9 699.1L82 695.3L83.3 691.5L84.9 687.8L86.6 684.2L88.5 680.7L90.6 677.3L92.8 674L95.3 670.9L97.9 667.8L100.6 664.9L103.5 662.2L106.6 659.6L109.7 657.1L113 654.9L116.4 652.8L119.9 650.9L123.5 649.2L127.2 647.6L131 646.3L134.8 645.2L138.7 644.2L142.7 643.5L146.6 643L150.6 642.7L154.6 642.5L158.6 642.7L162.6 643L166.5 643.5L170.5 644.2L174.4 645.2L178.2 646.3L182 647.6L185.7 649.2L189.3 650.9L192.8 652.8L196.2 654.9L199.5 657.1L202.6 659.6L205.7 662.2L208.6 664.9L211.3 667.8L213.9 670.9L216.4 674L218.6 677.3L220.7 680.7L222.6 684.2L224.3 687.8L225.9 691.5L227.2 695.3L228.3 699.1L229.3 703L230 707L230.5 710.9L230.8 714.9L230.9 718.9" fill="none" stroke="#ffff00" stroke-width="3.6"/>
<path d="M78.2 718.9L78.4 714.9L78.7 710.9L79.2 707L79.9 703L80.9 699.1L82 695.3L83.3 691.5L84.9 687.8L86.6 684.2L88.5 680.7L90.6 677.3L92.8 674L95.3 670.9L97.9 667.8L100.6 664.9L103.5 662.2L106.6 659.6L109.7 657.1L113 654.9L116.4 652.8L119.9 650.9L123.5 649.2L127.2 647.6L131 646.3L134.8 645.2L138.7 644.2L142.7 643.5L146.6 643L150.6 642.7L154.6 642.5L158.6 642.7L162.6 643L166.5 643.5L170.5 644.2L174.4 645.2L178.2 646.3L182 647.6L185.7 649.2L189.3 650.9L192.8 652.8L196.2 654.9L199.5 657.1L202.6 659.6L205.7 662.2L208.6 664.9L211.3 667.8L213.9 670.9L216.4 674L218.6 677.3L220.7 680.7L222.6 684.2L224.3 687.8L225.9 691.5L227.2 695.3L228.3 699.1L229.3 703L230 707L230.5 710.9L230.8 714.9L230.9 718.9" fill="none" stroke="#55ff00" stroke-width="1.8"/>
</g>
<path d="M27.3 718.9A127.2 127.2 0 0 1 281.9 718.9" fill="none" stroke="#000" stroke-width="1.1"/>
<path d="M78.2 718.9A76.3 76.3 0 0 1 230.9 718.9" fill="none" stroke="#000" stroke-width="1.1"/>
<path d="M26.8 718.9H282.4" stroke="#000" stroke-width="1.3" fill="none"/>
<path d="M27.3 719.4V591.1" stroke="#000" stroke-width="1.1" fill="none"/>
<path d="M27.3 716.8V721M32.4 717.4V720.4M37.5 717.4V720.4M42.6 717.4V720.4M47.7 717.4V720.4M52.8 716.8V721M57.9 717.4V720.4M63 717.4V720.4M68.1 717.4V720.4M73.2 717.4V720.4M78.2 716.8V721M83.3 717.4V720.4M88.4 717.4V720.4M93.5 717.4V720.4M98.6 717.4V720.4M103.7 716.8V721M108.8 717.4V720.4M113.9 717.4V720.4M119 717.4V720.4M124.1 717.4V720.4M129.2 716.8V721M134.2 717.4V720.4M139.3 717.4V720.4M144.4 717.4V720.4M149.5 717.4V720.4M154.6 716.8V721M159.7 717.4V720.4M164.8 717.4V720.4M169.9 717.4V720.4M175 717.4V720.4M180 716.8V721M185.1 717.4V720.4M190.2 717.4V720.4M195.3 717.4V720.4M200.4 717.4V720.4M205.5 716.8V721M210.6 717.4V720.4M215.7 717.4V720.4M220.8 717.4V720.4M225.9 717.4V720.4M230.9 716.8V721M236 717.4V720.4M241.1 717.4V720.4M246.2 717.4V720.4M251.3 717.4V720.4M256.4 716.8V721M261.5 717.4V720.4M266.6 717.4V720.4M271.7 717.4V720.4M276.8 717.4V720.4M281.9 716.8V721M25.2 718.9H29.4M25.8 713.8H28.8M25.8 708.7H28.8M25.8 703.6H28.8M25.8 698.5H28.8M25.2 693.4H29.4M25.8 688.4H28.8M25.8 683.3H28.8M25.8 678.2H28.8M25.8 673.1H28.8M25.2 668H29.4M25.8 662.9H28.8M25.8 657.8H28.8M25.8 652.7H28.8M25.8 647.6H28.8M25.2 642.5H29.4M25.8 637.5H28.8M25.8 632.4H28.8M25.8 627.3H28.8M25.8 622.2H28.8M25.2 617.1H29.4M25.8 612H28.8M25.8 606.9H28.8M25.8 601.8H28.8M25.8 596.7H28.8M25.2 591.6H29.4" stroke="#000" stroke-width="1.4" fill="none"/>
<g class="t">
<text x="27.3" y="726.5" text-anchor="middle">-250</text>
<text x="52.8" y="726.5" text-anchor="middle">-200</text>
<text x="78.2" y="726.5" text-anchor="middle">-150</text>
<text x="103.7" y="726.5" text-anchor="middle">-100</text>
<text x="129.2" y="726.5" text-anchor="middle">-50</text>
<text x="154.6" y="726.5" text-anchor="middle">0</text>
<text x="180" y="726.5" text-anchor="middle">50</text>
<text x="205.5" y="726.5" text-anchor="middle">100</text>
<text x="230.9" y="726.5" text-anchor="middle">150</text>
<text x="256.4" y="726.5" text-anchor="middle">200</text>
<text x="281.9" y="726.5" text-anchor="middle">250</text>
<text x="24.3" y="721.9" text-anchor="end">0</text>
<text x="24.3" y="696.4" text-anchor="end">50</text>
<text x="24.3" y="671" text-anchor="end">100</text>
<text x="24.3" y="645.5" text-anchor="end">150</text>
<text x="24.3" y="620.1" text-anchor="end">200</text>
<text x="24.3" y="594.6" text-anchor="end">250</text>
</g>
<text class="b" x="154.6" y="732.5" text-anchor="middle">X(cm)</text>
<text class="b" transform="translate(7.9 655.3) rotate(-90)" text-anchor="middle">Y(cm)</text>
<path d="M52.8 718.9V701.9" stroke="#000" stroke-width="1.2"/>
<path d="M52.8 692.6L47.7 702.8L57.9 702.8Z" fill="#000"/>
<path d="M256.4 690.6V709.9" stroke="#000" stroke-width="1.2"/>
<path d="M256.4 717.9L250.9 707.3L261.9 707.3Z" fill="#000"/>
<circle cx="154.6" cy="617.1" r="1.7" fill="#000"/>
<path d="M135.8 611L142.9 615.6" stroke="#000" stroke-width="0.9"/>
<path d="M134.7 617.1L141.9 621.7" stroke="#000" stroke-width="0.9"/>
<text class="io" x="32.9" y="739.5" textLength="31.8" lengthAdjust="spacingAndGlyphs">Inlet</text>
<text class="io" x="244.6" y="740.7" textLength="42.8" lengthAdjust="spacingAndGlyphs">Outlet</text>
<rect x="285.8" y="596.1" width="13.8" height="4.8" fill="#ff0000"/>
<rect x="285.8" y="600.6" width="13.8" height="9.4" fill="#ff5500"/>
<rect x="285.8" y="609.8" width="13.8" height="9.4" fill="#ffaa00"/>
<rect x="285.8" y="618.9" width="13.8" height="9.4" fill="#ffff00"/>
<rect x="285.8" y="628" width="13.8" height="9.4" fill="#aaff00"/>
<rect x="285.8" y="637.1" width="13.8" height="9.4" fill="#55ff00"/>
<rect x="285.8" y="646.2" width="13.8" height="9.4" fill="#00ff00"/>
<rect x="285.8" y="655.3" width="13.8" height="9.4" fill="#00ff55"/>
<rect x="285.8" y="664.4" width="13.8" height="9.4" fill="#00ffaa"/>
<rect x="285.8" y="673.5" width="13.8" height="9.4" fill="#00ffff"/>
<rect x="285.8" y="682.6" width="13.8" height="9.4" fill="#00aaff"/>
<rect x="285.8" y="691.7" width="13.8" height="9.4" fill="#0055ff"/>
<rect x="285.8" y="700.8" width="13.8" height="4.8" fill="#0000ff"/>
<path d="M285.8 600.6H299.6M285.8 609.8H299.6M285.8 618.9H299.6M285.8 628H299.6M285.8 637.1H299.6M285.8 646.2H299.6M285.8 655.3H299.6M285.8 664.4H299.6M285.8 673.5H299.6M285.8 682.6H299.6M285.8 691.7H299.6M285.8 700.8H299.6" stroke="#000" stroke-width="0.8" fill="none"/>
<rect x="285.8" y="596.1" width="13.8" height="109.2" fill="none" stroke="#000" stroke-width="0.9"/>
<g class="c">
<text x="306.2" y="605.4">50</text>
<text x="306.2" y="614.5">40</text>
<text x="306.2" y="623.6">30</text>
<text x="306.2" y="632.8">20</text>
<text x="306.2" y="641.9">10</text>
<text x="306.2" y="651">0</text>
<text x="303.3" y="660.1">-10</text>
<text x="303.3" y="669.2">-20</text>
<text x="303.3" y="678.3">-30</text>
<text x="303.3" y="687.4">-40</text>
<text x="303.3" y="696.5">-50</text>
<text x="303.3" y="705.6">-53</text>
<text x="304.9" y="593" text-anchor="middle">u(cm/s)</text>
</g>
<clipPath id="c8"><path d="M386.5 718.9A127.2 127.2 0 0 1 641 718.9L590.1 718.9A76.3 76.3 0 0 0 437.4 718.9Z"/></clipPath>
<g clip-path="url(#c8)">
<rect x="385.5" y="590.6" width="256.5" height="129.2" fill="#aaff00"/>
<path d="M401.4 722.3L401.4 718.5L402.4 710.5L404.3 701.3L407 690.8L409.6 680.3L412.9 669.8L416.8 661.9L421.4 654L421.4 648.1L428 642.9L433.9 637.6L432.6 632.4L434.6 627.8L441.1 624.5L447.7 620.5L455.6 615.3L463.5 611.3L472 608.7L474.9 604.8L485.4 602.1L495.9 600.8L506.4 600.2L516.9 601.5L524.8 602.8L532.7 603.5L537.9 604.8L532.7 606.1L524.8 606.1L516.9 605.4L509 606.1L503.8 608.7L501.2 614L502.5 619.2L505.1 623.2L502.5 627.1L497.2 629.7L490.6 633.7L482.8 637.6L474.9 641.6L467 644.2L463.5 649.4L455.6 654L463.5 654L452.9 664.5L443.8 680.3L438.5 700L437.2 722.3Z" fill="#ffff00"/>
<path d="M463.5 636.3L467.4 631L472 628.4L472.3 627.1L476.2 631L476.9 636.3L472.3 638.9L467 640.2L467.4 640.2Z" fill="#aaff00"/>
<path d="M467 631L472.3 628.4L475.1 631.7L475.5 635.6L472 637.9L467 638.9Z" fill="#55ff00"/>
<path d="M445.1 667.1L451 659.3L454.9 662.5L449.3 671.7Z" fill="#aaff00"/>
<path d="M447.2 666.5L450.6 662.1L452.9 663.9L449.5 668.7Z" fill="#00ff55"/>
<path d="M502.5 611.3L509 608.7L519.6 608.7L524.8 607.4L530.1 608.7L530.7 615.3L528.8 620.5L535.3 625.8L539.3 629.7L536.6 635L528.8 636.3L519.6 637.6L510.4 637L502.5 635L498.5 631L503.8 627.1L506.4 623.8L503.8 619.2L501.8 615.3Z" fill="#55ff00"/>
<path d="M501.2 614L503.1 610.7L506.4 612L505.1 617.2L506.4 620.5L503.1 623.4L501.4 619.2Z" fill="#aaff00"/>
<path d="M502.2 612.9L506.4 611.3L512.3 610.7L519.6 611.1L522.2 613.3L518.9 614.6L511.7 615L504.4 615.3Z" fill="#00ff00"/>
<path d="M503.1 620.5L506.4 619.2L512.3 619.9L519.6 620.8L523.5 622.5L522.2 624.2L512.3 623.9L505.1 622.9Z" fill="#00ff00"/>
<path d="M505.1 613.2L511 612.6L511.3 614L505.6 614.4Z" fill="#00ffaa"/>
<path d="M515.9 621.5L521.5 622.2L521 623.4L515.9 622.9Z" fill="#00ffaa"/>
<path d="M505.9 620.8L511 620.8L511.3 622L506.2 622.1Z" fill="#00ffaa"/>
<path d="M501.4 615.9L506.4 616.3L517.6 616.2L517.6 617.6L506.4 618.2L501.8 618.6Z" fill="#ffff00"/>
<path d="M548.5 610L557 610.7L557.3 603.5L562.5 607.4L569.1 611.3L578.3 614L575.6 616.6L567.8 615.3L559.9 612.6L552 611.3L549.8 613.3Z" fill="#ffff00"/>
<path d="M551.1 621.8L557 621.8L559.9 619.9L567.8 621.8L574.3 625.8L578.3 628.4L584.8 633.7L590.1 640.2L592.7 646.8L591.4 654L592.7 654L591.4 659.3L584.8 657.9L582.2 654L570.4 654L565.1 646.8L559.9 640.2L555.9 633.7L552 629.7L552.4 627.1Z" fill="#ffff00"/>
<path d="M541.9 629.1L547.1 631L543.9 635Z" fill="#ffff00"/>
<path d="M565.1 619.2L573 618.6L582.2 624.5L580.9 625.8L573 621.8Z" fill="#ffff00"/>
<path d="M591.4 627.1L595.4 625.8L598 629.7L594 630.4Z" fill="#ffff00"/>
<path d="M552 644.2L558.6 645.5L565.1 649.4L570.4 654L552 654Z" fill="#55ff00"/>
<path d="M597.3 630.4L600 631L604.6 637.6L609.2 644.2L609.8 646.8L607.2 646.2L602.6 640.2L598.6 633.7Z" fill="#ffff00" stroke="#ffff00" stroke-width="1.6" stroke-linejoin="round"/>
<path d="M597.3 630.4L600 631L604.6 637.6L609.2 644.2L609.8 646.8L607.2 646.2L602.6 640.2L598.6 633.7Z" fill="#ffaa00"/>
<path d="M599.3 633L603.9 638.3L608.2 644.2L607.2 644.8L603 639.6L599 634.3Z" fill="#ff5500"/>
<path d="M565.1 655.3L571.7 656.6L575 665.8L570.4 663.2L566.5 659.3Z" fill="#ffff00"/>
<path d="M611.1 654L620.3 654L621.6 661.9L616.4 660.6L612.4 657.9Z" fill="#ffff00"/>
<path d="M624.3 722.3L626.9 710.5L630.8 706.6L634.1 709.2L633.5 722.3Z" fill="#ffff00"/>
<path d="M577 673.7L583.5 680.3L590.1 686.8L596.7 688.2L601.9 696L605.9 705.2L608.5 713.1L609.8 722.3L578.3 722.3L565.1 667.1Z" fill="#55ff00"/>
<path d="M582.2 682.9L587.5 692.1L591.4 701.3L594 710.5L595.4 722.3L578.3 722.3L571.7 673.7Z" fill="#00ff00"/>
<path d="M629.5 680.3L631.1 681.6L633.7 697.4L632.4 697.4Z" fill="#55ff00"/>
<path d="M386.5 718.9L386.7 712.2L387.2 705.6L388.1 699L389.3 692.4L390.9 686L392.8 679.6L395 673.3L397.6 667.1L400.4 661.1L403.6 655.3L407.1 649.6L410.9 644.1L414.9 638.8L419.2 633.8L423.8 628.9L428.7 624.3L433.7 620L439 616L444.5 612.2L450.2 608.7L456 605.5L462 602.7L468.2 600.1L474.5 597.9L480.9 596L487.3 594.4L493.9 593.2L500.5 592.3L507.1 591.8L513.8 591.6L520.5 591.8L527.1 592.3L533.7 593.2L540.3 594.4L546.7 596L553.1 597.9L559.4 600.1L565.6 602.7L571.6 605.5L577.4 608.7L583.1 612.2L588.6 616L593.9 620L598.9 624.3L603.8 628.9L608.4 633.8L612.7 638.8L616.7 644.1L620.5 649.6L624 655.3L627.2 661.1L630 667.1L632.6 673.3L634.8 679.6L636.7 686L638.3 692.4L639.5 699L640.4 705.6L640.9 712.2L641 718.9" fill="none" stroke="#55ff00" stroke-width="4.8"/>
<path d="M386.5 718.9L386.7 712.2L387.2 705.6L388.1 699L389.3 692.4L390.9 686L392.8 679.6L395 673.3L397.6 667.1L400.4 661.1L403.6 655.3L407.1 649.6L410.9 644.1L414.9 638.8L419.2 633.8L423.8 628.9L428.7 624.3L433.7 620L439 616L444.5 612.2L450.2 608.7L456 605.5L462 602.7L468.2 600.1L474.5 597.9L480.9 596L487.3 594.4L493.9 593.2L500.5 592.3L507.1 591.8L513.8 591.6L520.5 591.8L527.1 592.3L533.7 593.2L540.3 594.4L546.7 596L553.1 597.9L559.4 600.1L565.6 602.7L571.6 605.5L577.4 608.7L583.1 612.2L588.6 616L593.9 620L598.9 624.3L603.8 628.9L608.4 633.8L612.7 638.8L616.7 644.1L620.5 649.6L624 655.3L627.2 661.1L630 667.1L632.6 673.3L634.8 679.6L636.7 686L638.3 692.4L639.5 699L640.4 705.6L640.9 712.2L641 718.9" fill="none" stroke="#00ff00" stroke-width="2.4"/>
<path d="M603.8 628.9L608.9 634.3L613.6 640L618 645.9" fill="none" stroke="#00ffaa" stroke-width="3.2"/>
<path d="M437.4 718.9L437.6 714.9L437.9 710.9L438.4 707L439.1 703L440.1 699.1L441.2 695.3L442.5 691.5L444.1 687.8L445.8 684.2L447.7 680.7L449.8 677.3L452 674L454.5 670.9L457.1 667.8L459.8 664.9L462.7 662.2L465.8 659.6L468.9 657.1L472.2 654.9L475.6 652.8L479.1 650.9L482.7 649.2L486.4 647.6L490.2 646.3L494 645.2L497.9 644.2L501.9 643.5L505.8 643L509.8 642.7L513.8 642.5L517.8 642.7L521.8 643L525.7 643.5L529.7 644.2L533.6 645.2L537.4 646.3L541.2 647.6L544.9 649.2L548.5 650.9L552 652.8L555.4 654.9L558.7 657.1L561.8 659.6L564.9 662.2L567.8 664.9L570.5 667.8L573.1 670.9L575.6 674L577.8 677.3L579.9 680.7L581.8 684.2L583.5 687.8L585.1 691.5L586.4 695.3L587.5 699.1L588.5 703L589.2 707L589.7 710.9L590 714.9L590.1 718.9" fill="none" stroke="#55ff00" stroke-width="4"/>
<path d="M437.4 718.9L437.6 714.9L437.9 710.9L438.4 707L439.1 703L440.1 699.1L441.2 695.3L442.5 691.5L444.1 687.8L445.8 684.2L447.7 680.7L449.8 677.3L452 674L454.5 670.9L457.1 667.8L459.8 664.9L462.7 662.2L465.8 659.6L468.9 657.1L472.2 654.9L475.6 652.8L479.1 650.9L482.7 649.2L486.4 647.6L490.2 646.3L494 645.2L497.9 644.2L501.9 643.5L505.8 643L509.8 642.7L513.8 642.5L517.8 642.7L521.8 643L525.7 643.5L529.7 644.2L533.6 645.2L537.4 646.3L541.2 647.6L544.9 649.2L548.5 650.9L552 652.8L555.4 654.9L558.7 657.1L561.8 659.6L564.9 662.2L567.8 664.9L570.5 667.8L573.1 670.9L575.6 674L577.8 677.3L579.9 680.7L581.8 684.2L583.5 687.8L585.1 691.5L586.4 695.3L587.5 699.1L588.5 703L589.2 707L589.7 710.9L590 714.9L590.1 718.9" fill="none" stroke="#00ff00" stroke-width="2"/>
</g>
<path d="M386.5 718.9A127.2 127.2 0 0 1 641 718.9" fill="none" stroke="#000" stroke-width="1.1"/>
<path d="M437.4 718.9A76.3 76.3 0 0 1 590.1 718.9" fill="none" stroke="#000" stroke-width="1.1"/>
<path d="M386 718.9H641.5" stroke="#000" stroke-width="1.3" fill="none"/>
<path d="M386.5 719.4V591.1" stroke="#000" stroke-width="1.1" fill="none"/>
<path d="M386.5 716.8V721M391.6 717.4V720.4M396.7 717.4V720.4M401.8 717.4V720.4M406.9 717.4V720.4M412 716.8V721M417.1 717.4V720.4M422.2 717.4V720.4M427.3 717.4V720.4M432.4 717.4V720.4M437.4 716.8V721M442.5 717.4V720.4M447.6 717.4V720.4M452.7 717.4V720.4M457.8 717.4V720.4M462.9 716.8V721M468 717.4V720.4M473.1 717.4V720.4M478.2 717.4V720.4M483.3 717.4V720.4M488.3 716.8V721M493.4 717.4V720.4M498.5 717.4V720.4M503.6 717.4V720.4M508.7 717.4V720.4M513.8 716.8V721M518.9 717.4V720.4M524 717.4V720.4M529.1 717.4V720.4M534.2 717.4V720.4M539.2 716.8V721M544.3 717.4V720.4M549.4 717.4V720.4M554.5 717.4V720.4M559.6 717.4V720.4M564.7 716.8V721M569.8 717.4V720.4M574.9 717.4V720.4M580 717.4V720.4M585.1 717.4V720.4M590.1 716.8V721M595.2 717.4V720.4M600.3 717.4V720.4M605.4 717.4V720.4M610.5 717.4V720.4M615.6 716.8V721M620.7 717.4V720.4M625.8 717.4V720.4M630.9 717.4V720.4M636 717.4V720.4M641 716.8V721M384.4 718.9H388.6M385 713.8H388M385 708.7H388M385 703.6H388M385 698.5H388M384.4 693.4H388.6M385 688.4H388M385 683.3H388M385 678.2H388M385 673.1H388M384.4 668H388.6M385 662.9H388M385 657.8H388M385 652.7H388M385 647.6H388M384.4 642.5H388.6M385 637.5H388M385 632.4H388M385 627.3H388M385 622.2H388M384.4 617.1H388.6M385 612H388M385 606.9H388M385 601.8H388M385 596.7H388M384.4 591.6H388.6" stroke="#000" stroke-width="1.4" fill="none"/>
<g class="t">
<text x="386.5" y="726.5" text-anchor="middle">-250</text>
<text x="412" y="726.5" text-anchor="middle">-200</text>
<text x="437.4" y="726.5" text-anchor="middle">-150</text>
<text x="462.9" y="726.5" text-anchor="middle">-100</text>
<text x="488.3" y="726.5" text-anchor="middle">-50</text>
<text x="513.8" y="726.5" text-anchor="middle">0</text>
<text x="539.2" y="726.5" text-anchor="middle">50</text>
<text x="564.7" y="726.5" text-anchor="middle">100</text>
<text x="590.1" y="726.5" text-anchor="middle">150</text>
<text x="615.6" y="726.5" text-anchor="middle">200</text>
<text x="641" y="726.5" text-anchor="middle">250</text>
<text x="383.5" y="721.9" text-anchor="end">0</text>
<text x="383.5" y="696.4" text-anchor="end">50</text>
<text x="383.5" y="671" text-anchor="end">100</text>
<text x="383.5" y="645.5" text-anchor="end">150</text>
<text x="383.5" y="620.1" text-anchor="end">200</text>
<text x="383.5" y="594.6" text-anchor="end">250</text>
</g>
<text class="b" x="513.8" y="732.5" text-anchor="middle">X(cm)</text>
<text class="b" transform="translate(367.1 655.3) rotate(-90)" text-anchor="middle">Y(cm)</text>
<path d="M412 718.9V701.9" stroke="#000" stroke-width="1.2"/>
<path d="M412 692.6L406.9 702.8L417.1 702.8Z" fill="#000"/>
<path d="M615.6 690.6V709.9" stroke="#000" stroke-width="1.2"/>
<path d="M615.6 717.9L610.1 707.3L621.1 707.3Z" fill="#000"/>
<circle cx="513.8" cy="612" r="1.7" fill="#000"/>
<circle cx="513.8" cy="622.2" r="1.7" fill="#000"/>
<path d="M495 611L502.1 615.6" stroke="#000" stroke-width="0.9"/>
<path d="M493.9 617.1L501.1 621.7" stroke="#000" stroke-width="0.9"/>
<text class="io" x="391.5" y="739.5" textLength="31.8" lengthAdjust="spacingAndGlyphs">Inlet</text>
<text class="io" x="602.2" y="741.9" textLength="42.8" lengthAdjust="spacingAndGlyphs">Outlet</text>
<rect x="644.5" y="596.1" width="13.8" height="4.8" fill="#ff0000"/>
<rect x="644.5" y="600.6" width="13.8" height="9.4" fill="#ff5500"/>
<rect x="644.5" y="609.8" width="13.8" height="9.4" fill="#ffaa00"/>
<rect x="644.5" y="618.9" width="13.8" height="9.4" fill="#ffff00"/>
<rect x="644.5" y="628" width="13.8" height="9.4" fill="#aaff00"/>
<rect x="644.5" y="637.1" width="13.8" height="9.4" fill="#55ff00"/>
<rect x="644.5" y="646.2" width="13.8" height="9.4" fill="#00ff00"/>
<rect x="644.5" y="655.3" width="13.8" height="9.4" fill="#00ff55"/>
<rect x="644.5" y="664.4" width="13.8" height="9.4" fill="#00ffaa"/>
<rect x="644.5" y="673.5" width="13.8" height="9.4" fill="#00ffff"/>
<rect x="644.5" y="682.6" width="13.8" height="9.4" fill="#00aaff"/>
<rect x="644.5" y="691.7" width="13.8" height="9.4" fill="#0055ff"/>
<rect x="644.5" y="700.8" width="13.8" height="4.8" fill="#0000ff"/>
<path d="M644.5 600.6H658.3M644.5 609.8H658.3M644.5 618.9H658.3M644.5 628H658.3M644.5 637.1H658.3M644.5 646.2H658.3M644.5 655.3H658.3M644.5 664.4H658.3M644.5 673.5H658.3M644.5 682.6H658.3M644.5 691.7H658.3M644.5 700.8H658.3" stroke="#000" stroke-width="0.8" fill="none"/>
<rect x="644.5" y="596.1" width="13.8" height="109.2" fill="none" stroke="#000" stroke-width="0.9"/>
<g class="c">
<text x="664.9" y="605.4">67</text>
<text x="664.9" y="614.5">60</text>
<text x="664.9" y="623.6">50</text>
<text x="664.9" y="632.8">40</text>
<text x="664.9" y="641.9">30</text>
<text x="664.9" y="651">20</text>
<text x="664.9" y="660.1">10</text>
<text x="664.9" y="669.2">0</text>
<text x="662" y="678.3">-10</text>
<text x="662" y="687.4">-20</text>
<text x="662" y="696.5">-30</text>
<text x="662" y="705.6">-36</text>
<text x="663.8" y="593" text-anchor="middle">u(cm/s)</text>
</g>
<text class="cap" x="330.6" y="166.9">(a)</text>
<text class="cap" x="330.6" y="363.2">(b)</text>
<text class="cap" x="330.9" y="559.2">(c)</text>
<text class="cap" x="330.6" y="754.3">(d)</text>
</svg>
</body></html>
